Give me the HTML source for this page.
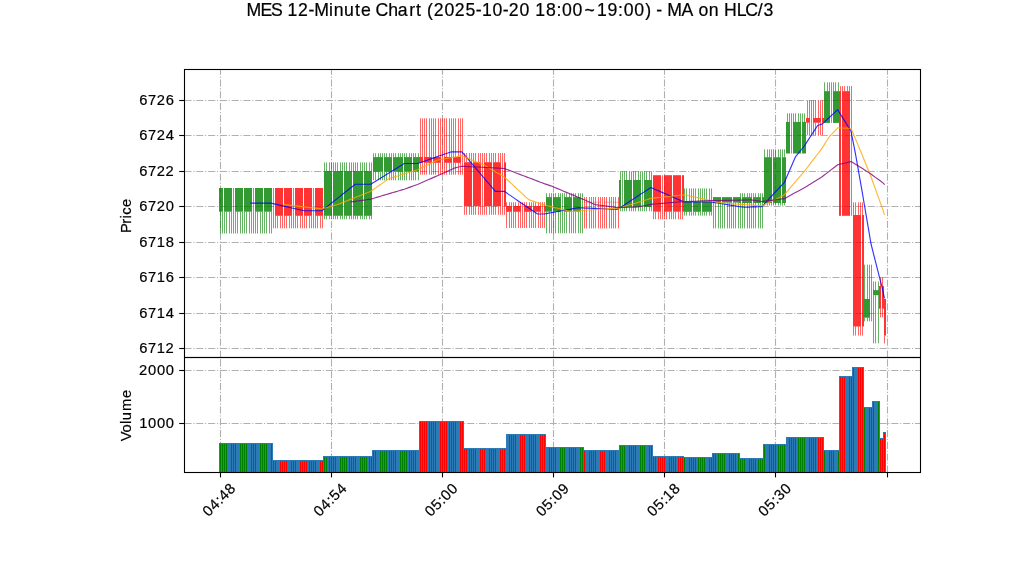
<!DOCTYPE html><html><head><meta charset="utf-8"><style>html,body{margin:0;padding:0;background:#fff;overflow:hidden}svg{display:block;will-change:transform}</style></head><body><svg width="1022" height="575" viewBox="0 0 1022 575">
<rect width="1022" height="575" fill="#fff"/>
<defs><clipPath id="cp"><rect x="184" y="69" width="737" height="288"/></clipPath><clipPath id="cv"><rect x="184" y="357" width="737" height="115"/></clipPath></defs>
<line x1="184.5" y1="100.5" x2="920" y2="100.5" stroke="#b0b0b0" stroke-width="1.1" stroke-dasharray="7.11 1.78 1.11 1.78"/>
<line x1="184.5" y1="135.5" x2="920" y2="135.5" stroke="#b0b0b0" stroke-width="1.1" stroke-dasharray="7.11 1.78 1.11 1.78"/>
<line x1="184.5" y1="171.5" x2="920" y2="171.5" stroke="#b0b0b0" stroke-width="1.1" stroke-dasharray="7.11 1.78 1.11 1.78"/>
<line x1="184.5" y1="206.5" x2="920" y2="206.5" stroke="#b0b0b0" stroke-width="1.1" stroke-dasharray="7.11 1.78 1.11 1.78"/>
<line x1="184.5" y1="242.5" x2="920" y2="242.5" stroke="#b0b0b0" stroke-width="1.1" stroke-dasharray="7.11 1.78 1.11 1.78"/>
<line x1="184.5" y1="277.5" x2="920" y2="277.5" stroke="#b0b0b0" stroke-width="1.1" stroke-dasharray="7.11 1.78 1.11 1.78"/>
<line x1="184.5" y1="313.5" x2="920" y2="313.5" stroke="#b0b0b0" stroke-width="1.1" stroke-dasharray="7.11 1.78 1.11 1.78"/>
<line x1="184.5" y1="348.5" x2="920" y2="348.5" stroke="#b0b0b0" stroke-width="1.1" stroke-dasharray="7.11 1.78 1.11 1.78"/>
<line x1="220.5" y1="357.5" x2="220.5" y2="69" stroke="#b0b0b0" stroke-width="1.1" stroke-dasharray="7.11 1.78 1.11 1.78"/>
<line x1="331.5" y1="357.5" x2="331.5" y2="69" stroke="#b0b0b0" stroke-width="1.1" stroke-dasharray="7.11 1.78 1.11 1.78"/>
<line x1="442.5" y1="357.5" x2="442.5" y2="69" stroke="#b0b0b0" stroke-width="1.1" stroke-dasharray="7.11 1.78 1.11 1.78"/>
<line x1="553.5" y1="357.5" x2="553.5" y2="69" stroke="#b0b0b0" stroke-width="1.1" stroke-dasharray="7.11 1.78 1.11 1.78"/>
<line x1="664.5" y1="357.5" x2="664.5" y2="69" stroke="#b0b0b0" stroke-width="1.1" stroke-dasharray="7.11 1.78 1.11 1.78"/>
<line x1="775.5" y1="357.5" x2="775.5" y2="69" stroke="#b0b0b0" stroke-width="1.1" stroke-dasharray="7.11 1.78 1.11 1.78"/>
<line x1="887.5" y1="357.5" x2="887.5" y2="69" stroke="#b0b0b0" stroke-width="1.1" stroke-dasharray="7.11 1.78 1.11 1.78"/>
<g clip-path="url(#cp)">
<rect x="219" y="188" width="4" height="23.7" fill="#008000" fill-opacity="0.8"/>
<rect x="224" y="188" width="8" height="23.7" fill="#008000" fill-opacity="0.8"/>
<rect x="235" y="188" width="8" height="23.7" fill="#008000" fill-opacity="0.8"/>
<rect x="244" y="188" width="8" height="23.7" fill="#008000" fill-opacity="0.8"/>
<rect x="255" y="188" width="8" height="23.7" fill="#008000" fill-opacity="0.8"/>
<rect x="264" y="188" width="8" height="23.7" fill="#008000" fill-opacity="0.8"/>
<rect x="275" y="188" width="8" height="27.8" fill="#ff0000" fill-opacity="0.8"/>
<rect x="284" y="188" width="8" height="27.8" fill="#ff0000" fill-opacity="0.8"/>
<rect x="295" y="188" width="8" height="27.8" fill="#ff0000" fill-opacity="0.8"/>
<rect x="304" y="188" width="8" height="27.8" fill="#ff0000" fill-opacity="0.8"/>
<rect x="315" y="188" width="8" height="27.8" fill="#ff0000" fill-opacity="0.8"/>
<rect x="324" y="171" width="8" height="44.8" fill="#008000" fill-opacity="0.8"/>
<rect x="333" y="171" width="10" height="44.8" fill="#008000" fill-opacity="0.8"/>
<rect x="344" y="171" width="8" height="44.8" fill="#008000" fill-opacity="0.8"/>
<rect x="353" y="171" width="10" height="44.8" fill="#008000" fill-opacity="0.8"/>
<rect x="364" y="171" width="8" height="44.8" fill="#008000" fill-opacity="0.8"/>
<rect x="373" y="157.1" width="10" height="14.6" fill="#008000" fill-opacity="0.8"/>
<rect x="384" y="157.1" width="8" height="14.6" fill="#008000" fill-opacity="0.8"/>
<rect x="393" y="157.1" width="10" height="14.6" fill="#008000" fill-opacity="0.8"/>
<rect x="404" y="157.1" width="8" height="14.6" fill="#008000" fill-opacity="0.8"/>
<rect x="413" y="157.1" width="6" height="14.6" fill="#008000" fill-opacity="0.8"/>
<rect x="419" y="157" width="4" height="5.8" fill="#ff0000" fill-opacity="0.8"/>
<rect x="424" y="157" width="8" height="5.8" fill="#ff0000" fill-opacity="0.8"/>
<rect x="433" y="157" width="8" height="5.8" fill="#ff0000" fill-opacity="0.8"/>
<rect x="444" y="157" width="8" height="5.8" fill="#ff0000" fill-opacity="0.8"/>
<rect x="453" y="157" width="8" height="5.8" fill="#ff0000" fill-opacity="0.8"/>
<rect x="464" y="162.2" width="8" height="44" fill="#ff0000" fill-opacity="0.8"/>
<rect x="473" y="162.2" width="8" height="44" fill="#ff0000" fill-opacity="0.8"/>
<rect x="484" y="162.2" width="8" height="44" fill="#ff0000" fill-opacity="0.8"/>
<rect x="493" y="162.2" width="8" height="44" fill="#ff0000" fill-opacity="0.8"/>
<rect x="504" y="162.2" width="2" height="44" fill="#ff0000" fill-opacity="0.8"/>
<rect x="506" y="206" width="6" height="5.8" fill="#ff0000" fill-opacity="0.8"/>
<rect x="513" y="206" width="8" height="5.8" fill="#ff0000" fill-opacity="0.8"/>
<rect x="524" y="206" width="8" height="5.8" fill="#ff0000" fill-opacity="0.8"/>
<rect x="533" y="206" width="8" height="5.8" fill="#ff0000" fill-opacity="0.8"/>
<rect x="544" y="206" width="2" height="5.8" fill="#ff0000" fill-opacity="0.8"/>
<rect x="546" y="197.1" width="6" height="14.6" fill="#008000" fill-opacity="0.8"/>
<rect x="553" y="197.1" width="8" height="14.6" fill="#008000" fill-opacity="0.8"/>
<rect x="564" y="197.1" width="8" height="14.6" fill="#008000" fill-opacity="0.8"/>
<rect x="573" y="197.1" width="8" height="14.6" fill="#008000" fill-opacity="0.8"/>
<rect x="584" y="201.7" width="8" height="1" fill="#ff0000" fill-opacity="0.3"/>
<rect x="593" y="201.7" width="8" height="1" fill="#ff0000" fill-opacity="0.3"/>
<rect x="604" y="201.7" width="8" height="1" fill="#ff0000" fill-opacity="0.3"/>
<rect x="613" y="201.7" width="6" height="1" fill="#ff0000" fill-opacity="0.3"/>
<rect x="619" y="180" width="2" height="27" fill="#008000" fill-opacity="0.8"/>
<rect x="624" y="180" width="8" height="27" fill="#008000" fill-opacity="0.8"/>
<rect x="633" y="180" width="8" height="27" fill="#008000" fill-opacity="0.8"/>
<rect x="644" y="180" width="8" height="27" fill="#008000" fill-opacity="0.8"/>
<rect x="653" y="175.2" width="8" height="36.5" fill="#ff0000" fill-opacity="0.8"/>
<rect x="664" y="175.2" width="8" height="36.5" fill="#ff0000" fill-opacity="0.8"/>
<rect x="673" y="175.2" width="8" height="36.5" fill="#ff0000" fill-opacity="0.8"/>
<rect x="682" y="175.2" width="2" height="36.5" fill="#ff0000" fill-opacity="0.8"/>
<rect x="684" y="201.8" width="8" height="10" fill="#008000" fill-opacity="0.8"/>
<rect x="693" y="201.8" width="8" height="10" fill="#008000" fill-opacity="0.8"/>
<rect x="702" y="201.8" width="10" height="10" fill="#008000" fill-opacity="0.8"/>
<rect x="713" y="197.1" width="8" height="5.5" fill="#008000" fill-opacity="0.8"/>
<rect x="722" y="197.1" width="10" height="5.5" fill="#008000" fill-opacity="0.8"/>
<rect x="733" y="197.1" width="6" height="5.5" fill="#008000" fill-opacity="0.8"/>
<rect x="739" y="197.1" width="2" height="5.9" fill="#008000" fill-opacity="0.8"/>
<rect x="742" y="197.1" width="10" height="5.9" fill="#008000" fill-opacity="0.8"/>
<rect x="753" y="197.1" width="8" height="5.9" fill="#008000" fill-opacity="0.8"/>
<rect x="762" y="197.1" width="2" height="5.9" fill="#008000" fill-opacity="0.8"/>
<rect x="764" y="157.2" width="8" height="45.8" fill="#008000" fill-opacity="0.8"/>
<rect x="773" y="157.2" width="8" height="45.8" fill="#008000" fill-opacity="0.8"/>
<rect x="782" y="157.2" width="4" height="45.8" fill="#008000" fill-opacity="0.8"/>
<rect x="786" y="121.9" width="4" height="31.6" fill="#008000" fill-opacity="0.8"/>
<rect x="793" y="121.9" width="8" height="31.6" fill="#008000" fill-opacity="0.8"/>
<rect x="802" y="121.9" width="4" height="31.6" fill="#008000" fill-opacity="0.8"/>
<rect x="806" y="118" width="4" height="4.7" fill="#ff0000" fill-opacity="0.8"/>
<rect x="813" y="118" width="8" height="4.7" fill="#ff0000" fill-opacity="0.8"/>
<rect x="822" y="118" width="2" height="4.7" fill="#ff0000" fill-opacity="0.8"/>
<rect x="824" y="91.15" width="6" height="31.75" fill="#008000" fill-opacity="0.8"/>
<rect x="833" y="91.15" width="6" height="31.75" fill="#008000" fill-opacity="0.8"/>
<rect x="839" y="91.15" width="2" height="124.65" fill="#ff0000" fill-opacity="0.8"/>
<rect x="842" y="91.15" width="8" height="124.65" fill="#ff0000" fill-opacity="0.8"/>
<rect x="853" y="215" width="8" height="111.55" fill="#ff0000" fill-opacity="0.8"/>
<rect x="862" y="215" width="2" height="111.55" fill="#ff0000" fill-opacity="0.8"/>
<rect x="864" y="299" width="6" height="18.7" fill="#008000" fill-opacity="0.8"/>
<rect x="873" y="290.1" width="6" height="5.1" fill="#008000" fill-opacity="0.8"/>
<rect x="879" y="286" width="2" height="22.7" fill="#ff0000" fill-opacity="0.8"/>
<rect x="882" y="286" width="2" height="22.7" fill="#ff0000" fill-opacity="0.8"/>
<rect x="884" y="298.75" width="2" height="36.85" fill="#ff0000" fill-opacity="0.8"/>
</g>
<g clip-path="url(#cp)">
<rect x="220" y="211.7" width="1" height="21.8" fill="#008000" fill-opacity="0.6"/>
<rect x="222" y="211.7" width="1" height="21.8" fill="#008000" fill-opacity="0.6"/>
<rect x="224" y="211.7" width="1" height="21.8" fill="#008000" fill-opacity="0.6"/>
<rect x="226" y="211.7" width="1" height="21.8" fill="#008000" fill-opacity="0.6"/>
<rect x="229" y="211.7" width="1" height="21.8" fill="#008000" fill-opacity="0.6"/>
<rect x="231" y="211.7" width="1" height="21.8" fill="#008000" fill-opacity="0.6"/>
<rect x="233" y="188" width="1" height="45.5" fill="#008000" fill-opacity="0.6"/>
<rect x="235" y="211.7" width="1" height="21.8" fill="#008000" fill-opacity="0.6"/>
<rect x="237" y="211.7" width="1" height="21.8" fill="#008000" fill-opacity="0.6"/>
<rect x="240" y="211.7" width="1" height="21.8" fill="#008000" fill-opacity="0.6"/>
<rect x="242" y="211.7" width="1" height="21.8" fill="#008000" fill-opacity="0.6"/>
<rect x="244" y="211.7" width="1" height="21.8" fill="#008000" fill-opacity="0.6"/>
<rect x="246" y="211.7" width="1" height="21.8" fill="#008000" fill-opacity="0.6"/>
<rect x="249" y="211.7" width="1" height="21.8" fill="#008000" fill-opacity="0.6"/>
<rect x="251" y="211.7" width="1" height="21.8" fill="#008000" fill-opacity="0.6"/>
<rect x="253" y="188" width="1" height="45.5" fill="#008000" fill-opacity="0.6"/>
<rect x="255" y="211.7" width="1" height="21.8" fill="#008000" fill-opacity="0.6"/>
<rect x="257" y="211.7" width="1" height="21.8" fill="#008000" fill-opacity="0.6"/>
<rect x="260" y="211.7" width="1" height="21.8" fill="#008000" fill-opacity="0.6"/>
<rect x="262" y="211.7" width="1" height="21.8" fill="#008000" fill-opacity="0.6"/>
<rect x="264" y="211.7" width="1" height="21.8" fill="#008000" fill-opacity="0.6"/>
<rect x="266" y="211.7" width="1" height="21.8" fill="#008000" fill-opacity="0.6"/>
<rect x="269" y="211.7" width="1" height="21.8" fill="#008000" fill-opacity="0.6"/>
<rect x="271" y="211.7" width="1" height="21.8" fill="#008000" fill-opacity="0.6"/>
<rect x="273" y="188" width="1" height="40.3" fill="#ff0000" fill-opacity="0.6"/>
<rect x="275" y="215.8" width="1" height="12.5" fill="#ff0000" fill-opacity="0.6"/>
<rect x="277" y="215.8" width="1" height="12.5" fill="#ff0000" fill-opacity="0.6"/>
<rect x="280" y="215.8" width="1" height="12.5" fill="#ff0000" fill-opacity="0.6"/>
<rect x="282" y="215.8" width="1" height="12.5" fill="#ff0000" fill-opacity="0.6"/>
<rect x="284" y="215.8" width="1" height="12.5" fill="#ff0000" fill-opacity="0.6"/>
<rect x="286" y="215.8" width="1" height="12.5" fill="#ff0000" fill-opacity="0.6"/>
<rect x="289" y="215.8" width="1" height="12.5" fill="#ff0000" fill-opacity="0.6"/>
<rect x="291" y="215.8" width="1" height="12.5" fill="#ff0000" fill-opacity="0.6"/>
<rect x="293" y="188" width="1" height="40.3" fill="#ff0000" fill-opacity="0.6"/>
<rect x="295" y="215.8" width="1" height="12.5" fill="#ff0000" fill-opacity="0.6"/>
<rect x="297" y="215.8" width="1" height="12.5" fill="#ff0000" fill-opacity="0.6"/>
<rect x="300" y="215.8" width="1" height="12.5" fill="#ff0000" fill-opacity="0.6"/>
<rect x="302" y="215.8" width="1" height="12.5" fill="#ff0000" fill-opacity="0.6"/>
<rect x="304" y="215.8" width="1" height="12.5" fill="#ff0000" fill-opacity="0.6"/>
<rect x="306" y="215.8" width="1" height="12.5" fill="#ff0000" fill-opacity="0.6"/>
<rect x="309" y="215.8" width="1" height="12.5" fill="#ff0000" fill-opacity="0.6"/>
<rect x="311" y="215.8" width="1" height="12.5" fill="#ff0000" fill-opacity="0.6"/>
<rect x="313" y="188" width="1" height="40.3" fill="#ff0000" fill-opacity="0.6"/>
<rect x="315" y="215.8" width="1" height="12.5" fill="#ff0000" fill-opacity="0.6"/>
<rect x="317" y="215.8" width="1" height="12.5" fill="#ff0000" fill-opacity="0.6"/>
<rect x="320" y="215.8" width="1" height="12.5" fill="#ff0000" fill-opacity="0.6"/>
<rect x="322" y="215.8" width="1" height="12.5" fill="#ff0000" fill-opacity="0.6"/>
<rect x="324" y="162.4" width="1" height="8.6" fill="#008000" fill-opacity="0.6"/>
<rect x="324" y="215.8" width="1" height="3.5" fill="#008000" fill-opacity="0.6"/>
<rect x="326" y="162.4" width="1" height="8.6" fill="#008000" fill-opacity="0.6"/>
<rect x="326" y="215.8" width="1" height="3.5" fill="#008000" fill-opacity="0.6"/>
<rect x="329" y="162.4" width="1" height="8.6" fill="#008000" fill-opacity="0.6"/>
<rect x="329" y="215.8" width="1" height="3.5" fill="#008000" fill-opacity="0.6"/>
<rect x="331" y="162.4" width="1" height="8.6" fill="#008000" fill-opacity="0.6"/>
<rect x="331" y="215.8" width="1" height="3.5" fill="#008000" fill-opacity="0.6"/>
<rect x="333" y="162.4" width="1" height="8.6" fill="#008000" fill-opacity="0.6"/>
<rect x="333" y="215.8" width="1" height="3.5" fill="#008000" fill-opacity="0.6"/>
<rect x="335" y="162.4" width="1" height="8.6" fill="#008000" fill-opacity="0.6"/>
<rect x="335" y="215.8" width="1" height="3.5" fill="#008000" fill-opacity="0.6"/>
<rect x="337" y="162.4" width="1" height="8.6" fill="#008000" fill-opacity="0.6"/>
<rect x="337" y="215.8" width="1" height="3.5" fill="#008000" fill-opacity="0.6"/>
<rect x="340" y="162.4" width="1" height="8.6" fill="#008000" fill-opacity="0.6"/>
<rect x="340" y="215.8" width="1" height="3.5" fill="#008000" fill-opacity="0.6"/>
<rect x="342" y="162.4" width="1" height="8.6" fill="#008000" fill-opacity="0.6"/>
<rect x="342" y="215.8" width="1" height="3.5" fill="#008000" fill-opacity="0.6"/>
<rect x="344" y="162.4" width="1" height="8.6" fill="#008000" fill-opacity="0.6"/>
<rect x="344" y="215.8" width="1" height="3.5" fill="#008000" fill-opacity="0.6"/>
<rect x="346" y="162.4" width="1" height="8.6" fill="#008000" fill-opacity="0.6"/>
<rect x="346" y="215.8" width="1" height="3.5" fill="#008000" fill-opacity="0.6"/>
<rect x="349" y="162.4" width="1" height="8.6" fill="#008000" fill-opacity="0.6"/>
<rect x="349" y="215.8" width="1" height="3.5" fill="#008000" fill-opacity="0.6"/>
<rect x="351" y="162.4" width="1" height="8.6" fill="#008000" fill-opacity="0.6"/>
<rect x="351" y="215.8" width="1" height="3.5" fill="#008000" fill-opacity="0.6"/>
<rect x="353" y="162.4" width="1" height="8.6" fill="#008000" fill-opacity="0.6"/>
<rect x="353" y="215.8" width="1" height="3.5" fill="#008000" fill-opacity="0.6"/>
<rect x="355" y="162.4" width="1" height="8.6" fill="#008000" fill-opacity="0.6"/>
<rect x="355" y="215.8" width="1" height="3.5" fill="#008000" fill-opacity="0.6"/>
<rect x="357" y="162.4" width="1" height="8.6" fill="#008000" fill-opacity="0.6"/>
<rect x="357" y="215.8" width="1" height="3.5" fill="#008000" fill-opacity="0.6"/>
<rect x="360" y="162.4" width="1" height="8.6" fill="#008000" fill-opacity="0.6"/>
<rect x="360" y="215.8" width="1" height="3.5" fill="#008000" fill-opacity="0.6"/>
<rect x="362" y="162.4" width="1" height="8.6" fill="#008000" fill-opacity="0.6"/>
<rect x="362" y="215.8" width="1" height="3.5" fill="#008000" fill-opacity="0.6"/>
<rect x="364" y="162.4" width="1" height="8.6" fill="#008000" fill-opacity="0.6"/>
<rect x="364" y="215.8" width="1" height="3.5" fill="#008000" fill-opacity="0.6"/>
<rect x="366" y="162.4" width="1" height="8.6" fill="#008000" fill-opacity="0.6"/>
<rect x="366" y="215.8" width="1" height="3.5" fill="#008000" fill-opacity="0.6"/>
<rect x="369" y="162.4" width="1" height="8.6" fill="#008000" fill-opacity="0.6"/>
<rect x="369" y="215.8" width="1" height="3.5" fill="#008000" fill-opacity="0.6"/>
<rect x="371" y="162.4" width="1" height="8.6" fill="#008000" fill-opacity="0.6"/>
<rect x="371" y="215.8" width="1" height="3.5" fill="#008000" fill-opacity="0.6"/>
<rect x="373" y="153.2" width="1" height="3.9" fill="#008000" fill-opacity="0.6"/>
<rect x="373" y="171.7" width="1" height="8.6" fill="#008000" fill-opacity="0.6"/>
<rect x="375" y="153.2" width="1" height="3.9" fill="#008000" fill-opacity="0.6"/>
<rect x="375" y="171.7" width="1" height="8.6" fill="#008000" fill-opacity="0.6"/>
<rect x="378" y="153.2" width="1" height="3.9" fill="#008000" fill-opacity="0.6"/>
<rect x="378" y="171.7" width="1" height="8.6" fill="#008000" fill-opacity="0.6"/>
<rect x="380" y="153.2" width="1" height="3.9" fill="#008000" fill-opacity="0.6"/>
<rect x="380" y="171.7" width="1" height="8.6" fill="#008000" fill-opacity="0.6"/>
<rect x="382" y="153.2" width="1" height="3.9" fill="#008000" fill-opacity="0.6"/>
<rect x="382" y="171.7" width="1" height="8.6" fill="#008000" fill-opacity="0.6"/>
<rect x="384" y="153.2" width="1" height="3.9" fill="#008000" fill-opacity="0.6"/>
<rect x="384" y="171.7" width="1" height="8.6" fill="#008000" fill-opacity="0.6"/>
<rect x="386" y="153.2" width="1" height="3.9" fill="#008000" fill-opacity="0.6"/>
<rect x="386" y="171.7" width="1" height="8.6" fill="#008000" fill-opacity="0.6"/>
<rect x="389" y="153.2" width="1" height="3.9" fill="#008000" fill-opacity="0.6"/>
<rect x="389" y="171.7" width="1" height="8.6" fill="#008000" fill-opacity="0.6"/>
<rect x="391" y="153.2" width="1" height="3.9" fill="#008000" fill-opacity="0.6"/>
<rect x="391" y="171.7" width="1" height="8.6" fill="#008000" fill-opacity="0.6"/>
<rect x="393" y="153.2" width="1" height="3.9" fill="#008000" fill-opacity="0.6"/>
<rect x="393" y="171.7" width="1" height="8.6" fill="#008000" fill-opacity="0.6"/>
<rect x="395" y="153.2" width="1" height="3.9" fill="#008000" fill-opacity="0.6"/>
<rect x="395" y="171.7" width="1" height="8.6" fill="#008000" fill-opacity="0.6"/>
<rect x="398" y="153.2" width="1" height="3.9" fill="#008000" fill-opacity="0.6"/>
<rect x="398" y="171.7" width="1" height="8.6" fill="#008000" fill-opacity="0.6"/>
<rect x="400" y="153.2" width="1" height="3.9" fill="#008000" fill-opacity="0.6"/>
<rect x="400" y="171.7" width="1" height="8.6" fill="#008000" fill-opacity="0.6"/>
<rect x="402" y="153.2" width="1" height="3.9" fill="#008000" fill-opacity="0.6"/>
<rect x="402" y="171.7" width="1" height="8.6" fill="#008000" fill-opacity="0.6"/>
<rect x="404" y="153.2" width="1" height="3.9" fill="#008000" fill-opacity="0.6"/>
<rect x="404" y="171.7" width="1" height="8.6" fill="#008000" fill-opacity="0.6"/>
<rect x="406" y="153.2" width="1" height="3.9" fill="#008000" fill-opacity="0.6"/>
<rect x="406" y="171.7" width="1" height="8.6" fill="#008000" fill-opacity="0.6"/>
<rect x="409" y="153.2" width="1" height="3.9" fill="#008000" fill-opacity="0.6"/>
<rect x="409" y="171.7" width="1" height="8.6" fill="#008000" fill-opacity="0.6"/>
<rect x="411" y="153.2" width="1" height="3.9" fill="#008000" fill-opacity="0.6"/>
<rect x="411" y="171.7" width="1" height="8.6" fill="#008000" fill-opacity="0.6"/>
<rect x="413" y="153.2" width="1" height="3.9" fill="#008000" fill-opacity="0.6"/>
<rect x="413" y="171.7" width="1" height="8.6" fill="#008000" fill-opacity="0.6"/>
<rect x="415" y="153.2" width="1" height="3.9" fill="#008000" fill-opacity="0.6"/>
<rect x="415" y="171.7" width="1" height="8.6" fill="#008000" fill-opacity="0.6"/>
<rect x="418" y="153.2" width="1" height="3.9" fill="#008000" fill-opacity="0.6"/>
<rect x="418" y="171.7" width="1" height="8.6" fill="#008000" fill-opacity="0.6"/>
<rect x="420" y="118.3" width="1" height="38.7" fill="#ff0000" fill-opacity="0.6"/>
<rect x="420" y="162.8" width="1" height="11.9" fill="#ff0000" fill-opacity="0.6"/>
<rect x="422" y="118.3" width="1" height="38.7" fill="#ff0000" fill-opacity="0.6"/>
<rect x="422" y="162.8" width="1" height="11.9" fill="#ff0000" fill-opacity="0.6"/>
<rect x="424" y="118.3" width="1" height="38.7" fill="#ff0000" fill-opacity="0.6"/>
<rect x="424" y="162.8" width="1" height="11.9" fill="#ff0000" fill-opacity="0.6"/>
<rect x="426" y="118.3" width="1" height="38.7" fill="#ff0000" fill-opacity="0.6"/>
<rect x="426" y="162.8" width="1" height="11.9" fill="#ff0000" fill-opacity="0.6"/>
<rect x="429" y="118.3" width="1" height="38.7" fill="#ff0000" fill-opacity="0.6"/>
<rect x="429" y="162.8" width="1" height="11.9" fill="#ff0000" fill-opacity="0.6"/>
<rect x="431" y="118.3" width="1" height="38.7" fill="#ff0000" fill-opacity="0.6"/>
<rect x="431" y="162.8" width="1" height="11.9" fill="#ff0000" fill-opacity="0.6"/>
<rect x="433" y="118.3" width="1" height="38.7" fill="#ff0000" fill-opacity="0.6"/>
<rect x="433" y="162.8" width="1" height="11.9" fill="#ff0000" fill-opacity="0.6"/>
<rect x="435" y="118.3" width="1" height="38.7" fill="#ff0000" fill-opacity="0.6"/>
<rect x="435" y="162.8" width="1" height="11.9" fill="#ff0000" fill-opacity="0.6"/>
<rect x="438" y="118.3" width="1" height="38.7" fill="#ff0000" fill-opacity="0.6"/>
<rect x="438" y="162.8" width="1" height="11.9" fill="#ff0000" fill-opacity="0.6"/>
<rect x="440" y="118.3" width="1" height="38.7" fill="#ff0000" fill-opacity="0.6"/>
<rect x="440" y="162.8" width="1" height="11.9" fill="#ff0000" fill-opacity="0.6"/>
<rect x="442" y="118.3" width="1" height="56.4" fill="#ff0000" fill-opacity="0.6"/>
<rect x="444" y="118.3" width="1" height="38.7" fill="#ff0000" fill-opacity="0.6"/>
<rect x="444" y="162.8" width="1" height="11.9" fill="#ff0000" fill-opacity="0.6"/>
<rect x="446" y="118.3" width="1" height="38.7" fill="#ff0000" fill-opacity="0.6"/>
<rect x="446" y="162.8" width="1" height="11.9" fill="#ff0000" fill-opacity="0.6"/>
<rect x="449" y="118.3" width="1" height="38.7" fill="#ff0000" fill-opacity="0.6"/>
<rect x="449" y="162.8" width="1" height="11.9" fill="#ff0000" fill-opacity="0.6"/>
<rect x="451" y="118.3" width="1" height="38.7" fill="#ff0000" fill-opacity="0.6"/>
<rect x="451" y="162.8" width="1" height="11.9" fill="#ff0000" fill-opacity="0.6"/>
<rect x="453" y="118.3" width="1" height="38.7" fill="#ff0000" fill-opacity="0.6"/>
<rect x="453" y="162.8" width="1" height="11.9" fill="#ff0000" fill-opacity="0.6"/>
<rect x="455" y="118.3" width="1" height="38.7" fill="#ff0000" fill-opacity="0.6"/>
<rect x="455" y="162.8" width="1" height="11.9" fill="#ff0000" fill-opacity="0.6"/>
<rect x="458" y="118.3" width="1" height="38.7" fill="#ff0000" fill-opacity="0.6"/>
<rect x="458" y="162.8" width="1" height="11.9" fill="#ff0000" fill-opacity="0.6"/>
<rect x="460" y="118.3" width="1" height="38.7" fill="#ff0000" fill-opacity="0.6"/>
<rect x="460" y="162.8" width="1" height="11.9" fill="#ff0000" fill-opacity="0.6"/>
<rect x="462" y="118.3" width="1" height="56.4" fill="#ff0000" fill-opacity="0.6"/>
<rect x="464" y="153" width="1" height="9.2" fill="#ff0000" fill-opacity="0.6"/>
<rect x="464" y="206.2" width="1" height="8.6" fill="#ff0000" fill-opacity="0.6"/>
<rect x="466" y="153" width="1" height="9.2" fill="#ff0000" fill-opacity="0.6"/>
<rect x="466" y="206.2" width="1" height="8.6" fill="#ff0000" fill-opacity="0.6"/>
<rect x="469" y="153" width="1" height="9.2" fill="#ff0000" fill-opacity="0.6"/>
<rect x="469" y="206.2" width="1" height="8.6" fill="#ff0000" fill-opacity="0.6"/>
<rect x="471" y="153" width="1" height="9.2" fill="#ff0000" fill-opacity="0.6"/>
<rect x="471" y="206.2" width="1" height="8.6" fill="#ff0000" fill-opacity="0.6"/>
<rect x="473" y="153" width="1" height="9.2" fill="#ff0000" fill-opacity="0.6"/>
<rect x="473" y="206.2" width="1" height="8.6" fill="#ff0000" fill-opacity="0.6"/>
<rect x="475" y="153" width="1" height="9.2" fill="#ff0000" fill-opacity="0.6"/>
<rect x="475" y="206.2" width="1" height="8.6" fill="#ff0000" fill-opacity="0.6"/>
<rect x="478" y="153" width="1" height="9.2" fill="#ff0000" fill-opacity="0.6"/>
<rect x="478" y="206.2" width="1" height="8.6" fill="#ff0000" fill-opacity="0.6"/>
<rect x="480" y="153" width="1" height="9.2" fill="#ff0000" fill-opacity="0.6"/>
<rect x="480" y="206.2" width="1" height="8.6" fill="#ff0000" fill-opacity="0.6"/>
<rect x="482" y="153" width="1" height="61.8" fill="#ff0000" fill-opacity="0.6"/>
<rect x="484" y="153" width="1" height="9.2" fill="#ff0000" fill-opacity="0.6"/>
<rect x="484" y="206.2" width="1" height="8.6" fill="#ff0000" fill-opacity="0.6"/>
<rect x="486" y="153" width="1" height="9.2" fill="#ff0000" fill-opacity="0.6"/>
<rect x="486" y="206.2" width="1" height="8.6" fill="#ff0000" fill-opacity="0.6"/>
<rect x="489" y="153" width="1" height="9.2" fill="#ff0000" fill-opacity="0.6"/>
<rect x="489" y="206.2" width="1" height="8.6" fill="#ff0000" fill-opacity="0.6"/>
<rect x="491" y="153" width="1" height="9.2" fill="#ff0000" fill-opacity="0.6"/>
<rect x="491" y="206.2" width="1" height="8.6" fill="#ff0000" fill-opacity="0.6"/>
<rect x="493" y="153" width="1" height="9.2" fill="#ff0000" fill-opacity="0.6"/>
<rect x="493" y="206.2" width="1" height="8.6" fill="#ff0000" fill-opacity="0.6"/>
<rect x="495" y="153" width="1" height="9.2" fill="#ff0000" fill-opacity="0.6"/>
<rect x="495" y="206.2" width="1" height="8.6" fill="#ff0000" fill-opacity="0.6"/>
<rect x="498" y="153" width="1" height="9.2" fill="#ff0000" fill-opacity="0.6"/>
<rect x="498" y="206.2" width="1" height="8.6" fill="#ff0000" fill-opacity="0.6"/>
<rect x="500" y="153" width="1" height="9.2" fill="#ff0000" fill-opacity="0.6"/>
<rect x="500" y="206.2" width="1" height="8.6" fill="#ff0000" fill-opacity="0.6"/>
<rect x="502" y="153" width="1" height="61.8" fill="#ff0000" fill-opacity="0.6"/>
<rect x="504" y="153" width="1" height="9.2" fill="#ff0000" fill-opacity="0.6"/>
<rect x="504" y="206.2" width="1" height="8.6" fill="#ff0000" fill-opacity="0.6"/>
<rect x="506" y="202.2" width="1" height="3.8" fill="#ff0000" fill-opacity="0.6"/>
<rect x="506" y="211.8" width="1" height="16.2" fill="#ff0000" fill-opacity="0.6"/>
<rect x="509" y="202.2" width="1" height="3.8" fill="#ff0000" fill-opacity="0.6"/>
<rect x="509" y="211.8" width="1" height="16.2" fill="#ff0000" fill-opacity="0.6"/>
<rect x="511" y="202.2" width="1" height="3.8" fill="#ff0000" fill-opacity="0.6"/>
<rect x="511" y="211.8" width="1" height="16.2" fill="#ff0000" fill-opacity="0.6"/>
<rect x="513" y="202.2" width="1" height="3.8" fill="#ff0000" fill-opacity="0.6"/>
<rect x="513" y="211.8" width="1" height="16.2" fill="#ff0000" fill-opacity="0.6"/>
<rect x="515" y="202.2" width="1" height="3.8" fill="#ff0000" fill-opacity="0.6"/>
<rect x="515" y="211.8" width="1" height="16.2" fill="#ff0000" fill-opacity="0.6"/>
<rect x="518" y="202.2" width="1" height="3.8" fill="#ff0000" fill-opacity="0.6"/>
<rect x="518" y="211.8" width="1" height="16.2" fill="#ff0000" fill-opacity="0.6"/>
<rect x="520" y="202.2" width="1" height="3.8" fill="#ff0000" fill-opacity="0.6"/>
<rect x="520" y="211.8" width="1" height="16.2" fill="#ff0000" fill-opacity="0.6"/>
<rect x="522" y="202.2" width="1" height="25.8" fill="#ff0000" fill-opacity="0.6"/>
<rect x="524" y="202.2" width="1" height="3.8" fill="#ff0000" fill-opacity="0.6"/>
<rect x="524" y="211.8" width="1" height="16.2" fill="#ff0000" fill-opacity="0.6"/>
<rect x="526" y="202.2" width="1" height="3.8" fill="#ff0000" fill-opacity="0.6"/>
<rect x="526" y="211.8" width="1" height="16.2" fill="#ff0000" fill-opacity="0.6"/>
<rect x="529" y="202.2" width="1" height="3.8" fill="#ff0000" fill-opacity="0.6"/>
<rect x="529" y="211.8" width="1" height="16.2" fill="#ff0000" fill-opacity="0.6"/>
<rect x="531" y="202.2" width="1" height="3.8" fill="#ff0000" fill-opacity="0.6"/>
<rect x="531" y="211.8" width="1" height="16.2" fill="#ff0000" fill-opacity="0.6"/>
<rect x="533" y="202.2" width="1" height="3.8" fill="#ff0000" fill-opacity="0.6"/>
<rect x="533" y="211.8" width="1" height="16.2" fill="#ff0000" fill-opacity="0.6"/>
<rect x="535" y="202.2" width="1" height="3.8" fill="#ff0000" fill-opacity="0.6"/>
<rect x="535" y="211.8" width="1" height="16.2" fill="#ff0000" fill-opacity="0.6"/>
<rect x="538" y="202.2" width="1" height="3.8" fill="#ff0000" fill-opacity="0.6"/>
<rect x="538" y="211.8" width="1" height="16.2" fill="#ff0000" fill-opacity="0.6"/>
<rect x="540" y="202.2" width="1" height="3.8" fill="#ff0000" fill-opacity="0.6"/>
<rect x="540" y="211.8" width="1" height="16.2" fill="#ff0000" fill-opacity="0.6"/>
<rect x="542" y="202.2" width="1" height="25.8" fill="#ff0000" fill-opacity="0.6"/>
<rect x="544" y="202.2" width="1" height="3.8" fill="#ff0000" fill-opacity="0.6"/>
<rect x="544" y="211.8" width="1" height="16.2" fill="#ff0000" fill-opacity="0.6"/>
<rect x="546" y="193.2" width="1" height="3.9" fill="#008000" fill-opacity="0.6"/>
<rect x="546" y="211.7" width="1" height="21.6" fill="#008000" fill-opacity="0.6"/>
<rect x="549" y="193.2" width="1" height="3.9" fill="#008000" fill-opacity="0.6"/>
<rect x="549" y="211.7" width="1" height="21.6" fill="#008000" fill-opacity="0.6"/>
<rect x="551" y="193.2" width="1" height="3.9" fill="#008000" fill-opacity="0.6"/>
<rect x="551" y="211.7" width="1" height="21.6" fill="#008000" fill-opacity="0.6"/>
<rect x="553" y="193.2" width="1" height="3.9" fill="#008000" fill-opacity="0.6"/>
<rect x="553" y="211.7" width="1" height="21.6" fill="#008000" fill-opacity="0.6"/>
<rect x="555" y="193.2" width="1" height="3.9" fill="#008000" fill-opacity="0.6"/>
<rect x="555" y="211.7" width="1" height="21.6" fill="#008000" fill-opacity="0.6"/>
<rect x="558" y="193.2" width="1" height="3.9" fill="#008000" fill-opacity="0.6"/>
<rect x="558" y="211.7" width="1" height="21.6" fill="#008000" fill-opacity="0.6"/>
<rect x="560" y="193.2" width="1" height="3.9" fill="#008000" fill-opacity="0.6"/>
<rect x="560" y="211.7" width="1" height="21.6" fill="#008000" fill-opacity="0.6"/>
<rect x="562" y="193.2" width="1" height="40.1" fill="#008000" fill-opacity="0.6"/>
<rect x="564" y="193.2" width="1" height="3.9" fill="#008000" fill-opacity="0.6"/>
<rect x="564" y="211.7" width="1" height="21.6" fill="#008000" fill-opacity="0.6"/>
<rect x="566" y="193.2" width="1" height="3.9" fill="#008000" fill-opacity="0.6"/>
<rect x="566" y="211.7" width="1" height="21.6" fill="#008000" fill-opacity="0.6"/>
<rect x="569" y="193.2" width="1" height="3.9" fill="#008000" fill-opacity="0.6"/>
<rect x="569" y="211.7" width="1" height="21.6" fill="#008000" fill-opacity="0.6"/>
<rect x="571" y="193.2" width="1" height="3.9" fill="#008000" fill-opacity="0.6"/>
<rect x="571" y="211.7" width="1" height="21.6" fill="#008000" fill-opacity="0.6"/>
<rect x="573" y="193.2" width="1" height="3.9" fill="#008000" fill-opacity="0.6"/>
<rect x="573" y="211.7" width="1" height="21.6" fill="#008000" fill-opacity="0.6"/>
<rect x="575" y="193.2" width="1" height="3.9" fill="#008000" fill-opacity="0.6"/>
<rect x="575" y="211.7" width="1" height="21.6" fill="#008000" fill-opacity="0.6"/>
<rect x="578" y="193.2" width="1" height="3.9" fill="#008000" fill-opacity="0.6"/>
<rect x="578" y="211.7" width="1" height="21.6" fill="#008000" fill-opacity="0.6"/>
<rect x="580" y="193.2" width="1" height="3.9" fill="#008000" fill-opacity="0.6"/>
<rect x="580" y="211.7" width="1" height="21.6" fill="#008000" fill-opacity="0.6"/>
<rect x="582" y="193.2" width="1" height="40.1" fill="#008000" fill-opacity="0.6"/>
<rect x="584" y="197" width="1" height="31.4" fill="#ff0000" fill-opacity="0.6"/>
<rect x="586" y="197" width="1" height="31.4" fill="#ff0000" fill-opacity="0.6"/>
<rect x="589" y="197" width="1" height="31.4" fill="#ff0000" fill-opacity="0.6"/>
<rect x="591" y="197" width="1" height="31.4" fill="#ff0000" fill-opacity="0.6"/>
<rect x="593" y="197" width="1" height="31.4" fill="#ff0000" fill-opacity="0.6"/>
<rect x="595" y="197" width="1" height="31.4" fill="#ff0000" fill-opacity="0.6"/>
<rect x="598" y="197" width="1" height="31.4" fill="#ff0000" fill-opacity="0.6"/>
<rect x="600" y="197" width="1" height="31.4" fill="#ff0000" fill-opacity="0.6"/>
<rect x="602" y="197" width="1" height="31.4" fill="#ff0000" fill-opacity="0.6"/>
<rect x="604" y="197" width="1" height="31.4" fill="#ff0000" fill-opacity="0.6"/>
<rect x="606" y="197" width="1" height="31.4" fill="#ff0000" fill-opacity="0.6"/>
<rect x="609" y="197" width="1" height="31.4" fill="#ff0000" fill-opacity="0.6"/>
<rect x="611" y="197" width="1" height="31.4" fill="#ff0000" fill-opacity="0.6"/>
<rect x="613" y="197" width="1" height="31.4" fill="#ff0000" fill-opacity="0.6"/>
<rect x="615" y="197" width="1" height="31.4" fill="#ff0000" fill-opacity="0.6"/>
<rect x="618" y="197" width="1" height="31.4" fill="#ff0000" fill-opacity="0.6"/>
<rect x="620" y="171.3" width="1" height="8.7" fill="#008000" fill-opacity="0.6"/>
<rect x="620" y="207" width="1" height="4.3" fill="#008000" fill-opacity="0.6"/>
<rect x="622" y="171.3" width="1" height="40" fill="#008000" fill-opacity="0.6"/>
<rect x="624" y="171.3" width="1" height="8.7" fill="#008000" fill-opacity="0.6"/>
<rect x="624" y="207" width="1" height="4.3" fill="#008000" fill-opacity="0.6"/>
<rect x="626" y="171.3" width="1" height="8.7" fill="#008000" fill-opacity="0.6"/>
<rect x="626" y="207" width="1" height="4.3" fill="#008000" fill-opacity="0.6"/>
<rect x="629" y="171.3" width="1" height="8.7" fill="#008000" fill-opacity="0.6"/>
<rect x="629" y="207" width="1" height="4.3" fill="#008000" fill-opacity="0.6"/>
<rect x="631" y="171.3" width="1" height="8.7" fill="#008000" fill-opacity="0.6"/>
<rect x="631" y="207" width="1" height="4.3" fill="#008000" fill-opacity="0.6"/>
<rect x="633" y="171.3" width="1" height="8.7" fill="#008000" fill-opacity="0.6"/>
<rect x="633" y="207" width="1" height="4.3" fill="#008000" fill-opacity="0.6"/>
<rect x="635" y="171.3" width="1" height="8.7" fill="#008000" fill-opacity="0.6"/>
<rect x="635" y="207" width="1" height="4.3" fill="#008000" fill-opacity="0.6"/>
<rect x="638" y="171.3" width="1" height="8.7" fill="#008000" fill-opacity="0.6"/>
<rect x="638" y="207" width="1" height="4.3" fill="#008000" fill-opacity="0.6"/>
<rect x="640" y="171.3" width="1" height="8.7" fill="#008000" fill-opacity="0.6"/>
<rect x="640" y="207" width="1" height="4.3" fill="#008000" fill-opacity="0.6"/>
<rect x="642" y="171.3" width="1" height="40" fill="#008000" fill-opacity="0.6"/>
<rect x="644" y="171.3" width="1" height="8.7" fill="#008000" fill-opacity="0.6"/>
<rect x="644" y="207" width="1" height="4.3" fill="#008000" fill-opacity="0.6"/>
<rect x="646" y="171.3" width="1" height="8.7" fill="#008000" fill-opacity="0.6"/>
<rect x="646" y="207" width="1" height="4.3" fill="#008000" fill-opacity="0.6"/>
<rect x="649" y="171.3" width="1" height="8.7" fill="#008000" fill-opacity="0.6"/>
<rect x="649" y="207" width="1" height="4.3" fill="#008000" fill-opacity="0.6"/>
<rect x="651" y="171.3" width="1" height="8.7" fill="#008000" fill-opacity="0.6"/>
<rect x="651" y="207" width="1" height="4.3" fill="#008000" fill-opacity="0.6"/>
<rect x="653" y="211.7" width="1" height="7.55" fill="#ff0000" fill-opacity="0.6"/>
<rect x="655" y="211.7" width="1" height="7.55" fill="#ff0000" fill-opacity="0.6"/>
<rect x="658" y="211.7" width="1" height="7.55" fill="#ff0000" fill-opacity="0.6"/>
<rect x="660" y="211.7" width="1" height="7.55" fill="#ff0000" fill-opacity="0.6"/>
<rect x="662" y="175.2" width="1" height="44.05" fill="#ff0000" fill-opacity="0.6"/>
<rect x="664" y="211.7" width="1" height="7.55" fill="#ff0000" fill-opacity="0.6"/>
<rect x="666" y="211.7" width="1" height="7.55" fill="#ff0000" fill-opacity="0.6"/>
<rect x="669" y="211.7" width="1" height="7.55" fill="#ff0000" fill-opacity="0.6"/>
<rect x="671" y="211.7" width="1" height="7.55" fill="#ff0000" fill-opacity="0.6"/>
<rect x="673" y="211.7" width="1" height="7.55" fill="#ff0000" fill-opacity="0.6"/>
<rect x="675" y="211.7" width="1" height="7.55" fill="#ff0000" fill-opacity="0.6"/>
<rect x="678" y="211.7" width="1" height="7.55" fill="#ff0000" fill-opacity="0.6"/>
<rect x="680" y="211.7" width="1" height="7.55" fill="#ff0000" fill-opacity="0.6"/>
<rect x="682" y="211.7" width="1" height="7.55" fill="#ff0000" fill-opacity="0.6"/>
<rect x="684" y="188.4" width="1" height="13.4" fill="#008000" fill-opacity="0.6"/>
<rect x="684" y="211.8" width="1" height="3.8" fill="#008000" fill-opacity="0.6"/>
<rect x="686" y="188.4" width="1" height="13.4" fill="#008000" fill-opacity="0.6"/>
<rect x="686" y="211.8" width="1" height="3.8" fill="#008000" fill-opacity="0.6"/>
<rect x="689" y="188.4" width="1" height="13.4" fill="#008000" fill-opacity="0.6"/>
<rect x="689" y="211.8" width="1" height="3.8" fill="#008000" fill-opacity="0.6"/>
<rect x="691" y="188.4" width="1" height="13.4" fill="#008000" fill-opacity="0.6"/>
<rect x="691" y="211.8" width="1" height="3.8" fill="#008000" fill-opacity="0.6"/>
<rect x="693" y="188.4" width="1" height="13.4" fill="#008000" fill-opacity="0.6"/>
<rect x="693" y="211.8" width="1" height="3.8" fill="#008000" fill-opacity="0.6"/>
<rect x="695" y="188.4" width="1" height="13.4" fill="#008000" fill-opacity="0.6"/>
<rect x="695" y="211.8" width="1" height="3.8" fill="#008000" fill-opacity="0.6"/>
<rect x="698" y="188.4" width="1" height="13.4" fill="#008000" fill-opacity="0.6"/>
<rect x="698" y="211.8" width="1" height="3.8" fill="#008000" fill-opacity="0.6"/>
<rect x="700" y="188.4" width="1" height="13.4" fill="#008000" fill-opacity="0.6"/>
<rect x="700" y="211.8" width="1" height="3.8" fill="#008000" fill-opacity="0.6"/>
<rect x="702" y="188.4" width="1" height="13.4" fill="#008000" fill-opacity="0.6"/>
<rect x="702" y="211.8" width="1" height="3.8" fill="#008000" fill-opacity="0.6"/>
<rect x="704" y="188.4" width="1" height="13.4" fill="#008000" fill-opacity="0.6"/>
<rect x="704" y="211.8" width="1" height="3.8" fill="#008000" fill-opacity="0.6"/>
<rect x="706" y="188.4" width="1" height="13.4" fill="#008000" fill-opacity="0.6"/>
<rect x="706" y="211.8" width="1" height="3.8" fill="#008000" fill-opacity="0.6"/>
<rect x="709" y="188.4" width="1" height="13.4" fill="#008000" fill-opacity="0.6"/>
<rect x="709" y="211.8" width="1" height="3.8" fill="#008000" fill-opacity="0.6"/>
<rect x="711" y="188.4" width="1" height="13.4" fill="#008000" fill-opacity="0.6"/>
<rect x="711" y="211.8" width="1" height="3.8" fill="#008000" fill-opacity="0.6"/>
<rect x="713" y="202.6" width="1" height="25.8" fill="#008000" fill-opacity="0.6"/>
<rect x="715" y="202.6" width="1" height="25.8" fill="#008000" fill-opacity="0.6"/>
<rect x="718" y="202.6" width="1" height="25.8" fill="#008000" fill-opacity="0.6"/>
<rect x="720" y="202.6" width="1" height="25.8" fill="#008000" fill-opacity="0.6"/>
<rect x="722" y="202.6" width="1" height="25.8" fill="#008000" fill-opacity="0.6"/>
<rect x="724" y="202.6" width="1" height="25.8" fill="#008000" fill-opacity="0.6"/>
<rect x="727" y="202.6" width="1" height="25.8" fill="#008000" fill-opacity="0.6"/>
<rect x="729" y="202.6" width="1" height="25.8" fill="#008000" fill-opacity="0.6"/>
<rect x="731" y="202.6" width="1" height="25.8" fill="#008000" fill-opacity="0.6"/>
<rect x="733" y="202.6" width="1" height="25.8" fill="#008000" fill-opacity="0.6"/>
<rect x="735" y="202.6" width="1" height="25.8" fill="#008000" fill-opacity="0.6"/>
<rect x="738" y="202.6" width="1" height="25.8" fill="#008000" fill-opacity="0.6"/>
<rect x="740" y="193.2" width="1" height="3.9" fill="#008000" fill-opacity="0.6"/>
<rect x="740" y="203" width="1" height="25.4" fill="#008000" fill-opacity="0.6"/>
<rect x="742" y="193.2" width="1" height="3.9" fill="#008000" fill-opacity="0.6"/>
<rect x="742" y="203" width="1" height="25.4" fill="#008000" fill-opacity="0.6"/>
<rect x="744" y="193.2" width="1" height="3.9" fill="#008000" fill-opacity="0.6"/>
<rect x="744" y="203" width="1" height="25.4" fill="#008000" fill-opacity="0.6"/>
<rect x="747" y="193.2" width="1" height="3.9" fill="#008000" fill-opacity="0.6"/>
<rect x="747" y="203" width="1" height="25.4" fill="#008000" fill-opacity="0.6"/>
<rect x="749" y="193.2" width="1" height="3.9" fill="#008000" fill-opacity="0.6"/>
<rect x="749" y="203" width="1" height="25.4" fill="#008000" fill-opacity="0.6"/>
<rect x="751" y="193.2" width="1" height="3.9" fill="#008000" fill-opacity="0.6"/>
<rect x="751" y="203" width="1" height="25.4" fill="#008000" fill-opacity="0.6"/>
<rect x="753" y="193.2" width="1" height="3.9" fill="#008000" fill-opacity="0.6"/>
<rect x="753" y="203" width="1" height="25.4" fill="#008000" fill-opacity="0.6"/>
<rect x="755" y="193.2" width="1" height="3.9" fill="#008000" fill-opacity="0.6"/>
<rect x="755" y="203" width="1" height="25.4" fill="#008000" fill-opacity="0.6"/>
<rect x="758" y="193.2" width="1" height="3.9" fill="#008000" fill-opacity="0.6"/>
<rect x="758" y="203" width="1" height="25.4" fill="#008000" fill-opacity="0.6"/>
<rect x="760" y="193.2" width="1" height="3.9" fill="#008000" fill-opacity="0.6"/>
<rect x="760" y="203" width="1" height="25.4" fill="#008000" fill-opacity="0.6"/>
<rect x="762" y="193.2" width="1" height="3.9" fill="#008000" fill-opacity="0.6"/>
<rect x="762" y="203" width="1" height="25.4" fill="#008000" fill-opacity="0.6"/>
<rect x="764" y="149.3" width="1" height="7.9" fill="#008000" fill-opacity="0.6"/>
<rect x="764" y="203" width="1" height="2.5" fill="#008000" fill-opacity="0.6"/>
<rect x="767" y="149.3" width="1" height="7.9" fill="#008000" fill-opacity="0.6"/>
<rect x="767" y="203" width="1" height="2.5" fill="#008000" fill-opacity="0.6"/>
<rect x="769" y="149.3" width="1" height="7.9" fill="#008000" fill-opacity="0.6"/>
<rect x="769" y="203" width="1" height="2.5" fill="#008000" fill-opacity="0.6"/>
<rect x="771" y="149.3" width="1" height="7.9" fill="#008000" fill-opacity="0.6"/>
<rect x="771" y="203" width="1" height="2.5" fill="#008000" fill-opacity="0.6"/>
<rect x="773" y="149.3" width="1" height="7.9" fill="#008000" fill-opacity="0.6"/>
<rect x="773" y="203" width="1" height="2.5" fill="#008000" fill-opacity="0.6"/>
<rect x="775" y="149.3" width="1" height="7.9" fill="#008000" fill-opacity="0.6"/>
<rect x="775" y="203" width="1" height="2.5" fill="#008000" fill-opacity="0.6"/>
<rect x="778" y="149.3" width="1" height="7.9" fill="#008000" fill-opacity="0.6"/>
<rect x="778" y="203" width="1" height="2.5" fill="#008000" fill-opacity="0.6"/>
<rect x="780" y="149.3" width="1" height="7.9" fill="#008000" fill-opacity="0.6"/>
<rect x="780" y="203" width="1" height="2.5" fill="#008000" fill-opacity="0.6"/>
<rect x="782" y="149.3" width="1" height="7.9" fill="#008000" fill-opacity="0.6"/>
<rect x="782" y="203" width="1" height="2.5" fill="#008000" fill-opacity="0.6"/>
<rect x="784" y="149.3" width="1" height="7.9" fill="#008000" fill-opacity="0.6"/>
<rect x="784" y="203" width="1" height="2.5" fill="#008000" fill-opacity="0.6"/>
<rect x="787" y="113.3" width="1" height="8.6" fill="#008000" fill-opacity="0.6"/>
<rect x="789" y="113.3" width="1" height="8.6" fill="#008000" fill-opacity="0.6"/>
<rect x="791" y="113.3" width="1" height="40.2" fill="#008000" fill-opacity="0.6"/>
<rect x="793" y="113.3" width="1" height="8.6" fill="#008000" fill-opacity="0.6"/>
<rect x="795" y="113.3" width="1" height="8.6" fill="#008000" fill-opacity="0.6"/>
<rect x="798" y="113.3" width="1" height="8.6" fill="#008000" fill-opacity="0.6"/>
<rect x="800" y="113.3" width="1" height="8.6" fill="#008000" fill-opacity="0.6"/>
<rect x="802" y="113.3" width="1" height="8.6" fill="#008000" fill-opacity="0.6"/>
<rect x="804" y="113.3" width="1" height="8.6" fill="#008000" fill-opacity="0.6"/>
<rect x="807" y="100.3" width="1" height="17.7" fill="#ff0000" fill-opacity="0.6"/>
<rect x="807" y="122.7" width="1" height="12.5" fill="#ff0000" fill-opacity="0.6"/>
<rect x="809" y="100.3" width="1" height="17.7" fill="#ff0000" fill-opacity="0.6"/>
<rect x="809" y="122.7" width="1" height="12.5" fill="#ff0000" fill-opacity="0.6"/>
<rect x="811" y="100.3" width="1" height="34.9" fill="#ff0000" fill-opacity="0.6"/>
<rect x="813" y="100.3" width="1" height="17.7" fill="#ff0000" fill-opacity="0.6"/>
<rect x="813" y="122.7" width="1" height="12.5" fill="#ff0000" fill-opacity="0.6"/>
<rect x="815" y="100.3" width="1" height="17.7" fill="#ff0000" fill-opacity="0.6"/>
<rect x="815" y="122.7" width="1" height="12.5" fill="#ff0000" fill-opacity="0.6"/>
<rect x="818" y="100.3" width="1" height="17.7" fill="#ff0000" fill-opacity="0.6"/>
<rect x="818" y="122.7" width="1" height="12.5" fill="#ff0000" fill-opacity="0.6"/>
<rect x="820" y="100.3" width="1" height="17.7" fill="#ff0000" fill-opacity="0.6"/>
<rect x="820" y="122.7" width="1" height="12.5" fill="#ff0000" fill-opacity="0.6"/>
<rect x="822" y="100.3" width="1" height="17.7" fill="#ff0000" fill-opacity="0.6"/>
<rect x="822" y="122.7" width="1" height="12.5" fill="#ff0000" fill-opacity="0.6"/>
<rect x="824" y="82.3" width="1" height="8.85" fill="#008000" fill-opacity="0.6"/>
<rect x="827" y="82.3" width="1" height="8.85" fill="#008000" fill-opacity="0.6"/>
<rect x="829" y="82.3" width="1" height="8.85" fill="#008000" fill-opacity="0.6"/>
<rect x="831" y="82.3" width="1" height="40.6" fill="#008000" fill-opacity="0.6"/>
<rect x="833" y="82.3" width="1" height="8.85" fill="#008000" fill-opacity="0.6"/>
<rect x="835" y="82.3" width="1" height="8.85" fill="#008000" fill-opacity="0.6"/>
<rect x="838" y="82.3" width="1" height="8.85" fill="#008000" fill-opacity="0.6"/>
<rect x="840" y="86.1" width="1" height="5.05" fill="#ff0000" fill-opacity="0.6"/>
<rect x="842" y="86.1" width="1" height="5.05" fill="#ff0000" fill-opacity="0.6"/>
<rect x="844" y="86.1" width="1" height="5.05" fill="#ff0000" fill-opacity="0.6"/>
<rect x="847" y="86.1" width="1" height="5.05" fill="#ff0000" fill-opacity="0.6"/>
<rect x="849" y="86.1" width="1" height="5.05" fill="#ff0000" fill-opacity="0.6"/>
<rect x="851" y="86.1" width="1" height="129.7" fill="#ff0000" fill-opacity="0.6"/>
<rect x="853" y="202.35" width="1" height="12.65" fill="#ff0000" fill-opacity="0.6"/>
<rect x="853" y="326.55" width="1" height="9.05" fill="#ff0000" fill-opacity="0.6"/>
<rect x="855" y="202.35" width="1" height="12.65" fill="#ff0000" fill-opacity="0.6"/>
<rect x="855" y="326.55" width="1" height="9.05" fill="#ff0000" fill-opacity="0.6"/>
<rect x="858" y="202.35" width="1" height="12.65" fill="#ff0000" fill-opacity="0.6"/>
<rect x="858" y="326.55" width="1" height="9.05" fill="#ff0000" fill-opacity="0.6"/>
<rect x="860" y="202.35" width="1" height="12.65" fill="#ff0000" fill-opacity="0.6"/>
<rect x="860" y="326.55" width="1" height="9.05" fill="#ff0000" fill-opacity="0.6"/>
<rect x="862" y="202.35" width="1" height="12.65" fill="#ff0000" fill-opacity="0.6"/>
<rect x="862" y="326.55" width="1" height="9.05" fill="#ff0000" fill-opacity="0.6"/>
<rect x="864" y="264.65" width="1" height="34.35" fill="#008000" fill-opacity="0.6"/>
<rect x="864" y="317.7" width="1" height="3.65" fill="#008000" fill-opacity="0.6"/>
<rect x="867" y="264.65" width="1" height="34.35" fill="#008000" fill-opacity="0.6"/>
<rect x="867" y="317.7" width="1" height="3.65" fill="#008000" fill-opacity="0.6"/>
<rect x="869" y="264.65" width="1" height="34.35" fill="#008000" fill-opacity="0.6"/>
<rect x="869" y="317.7" width="1" height="3.65" fill="#008000" fill-opacity="0.6"/>
<rect x="871" y="264.65" width="1" height="56.7" fill="#008000" fill-opacity="0.6"/>
<rect x="873" y="281.45" width="1" height="8.65" fill="#008000" fill-opacity="0.6"/>
<rect x="873" y="295.2" width="1" height="48.15" fill="#008000" fill-opacity="0.6"/>
<rect x="875" y="281.45" width="1" height="8.65" fill="#008000" fill-opacity="0.6"/>
<rect x="875" y="295.2" width="1" height="48.15" fill="#008000" fill-opacity="0.6"/>
<rect x="878" y="281.45" width="1" height="8.65" fill="#008000" fill-opacity="0.6"/>
<rect x="878" y="295.2" width="1" height="48.15" fill="#008000" fill-opacity="0.6"/>
<rect x="880" y="277.4" width="1" height="8.6" fill="#ff0000" fill-opacity="0.6"/>
<rect x="880" y="308.7" width="1" height="8.7" fill="#ff0000" fill-opacity="0.6"/>
<rect x="882" y="277.4" width="1" height="8.6" fill="#ff0000" fill-opacity="0.6"/>
<rect x="882" y="308.7" width="1" height="8.7" fill="#ff0000" fill-opacity="0.6"/>
<rect x="884" y="335.6" width="1" height="7.9" fill="#ff0000" fill-opacity="0.6"/>
</g>
<g clip-path="url(#cp)">
<polyline points="250.79,203.17 253.02,203.17 255.24,203.17 257.46,203.17 259.68,203.17 261.91,203.17 264.13,203.17 266.35,203.17 268.58,203.17 270.8,203.17 273.02,203.67 275.25,204.17 277.47,204.67 279.69,205.18 281.91,205.68 284.14,206.18 286.36,206.68 288.58,207.18 290.81,207.69 293.03,208.19 295.25,208.69 297.47,209.19 299.7,209.7 301.92,210.2 304.14,210.7 306.37,210.7 308.59,210.7 310.81,210.7 313.04,210.7 315.26,210.7 317.48,210.7 319.7,210.7 321.93,210.7 324.15,208.94 326.37,207.17 328.6,205.41 330.82,203.64 333.04,201.88 335.26,200.11 337.49,198.35 339.71,196.58 341.93,194.82 344.16,193.06 346.38,191.29 348.6,189.53 350.82,187.76 353.05,186 355.27,184.23 357.49,184.23 359.72,184.23 361.94,184.23 364.16,184.23 366.39,184.23 368.61,184.23 370.83,184.23 373.05,182.85 375.28,181.47 377.5,180.09 379.72,178.71 381.95,177.33 384.17,175.95 386.39,174.57 388.61,173.19 390.84,171.81 393.06,170.43 395.28,169.05 397.51,167.67 399.73,166.29 401.95,164.91 404.18,163.53 406.4,163.53 408.62,163.53 410.84,163.53 413.07,163.53 415.29,163.53 417.51,163.53 419.74,162.76 421.96,161.99 424.18,161.21 426.4,160.44 428.63,159.67 430.85,158.89 433.07,158.12 435.3,157.35 437.52,156.57 439.74,155.8 441.96,155.03 444.19,154.25 446.41,153.48 448.63,152.71 450.86,151.93 453.08,151.93 455.3,151.93 457.53,151.93 459.75,151.93 461.97,151.93 464.19,154.56 466.42,157.19 468.64,159.81 470.86,162.44 473.09,165.07 475.31,167.69 477.53,170.32 479.75,172.95 481.98,175.57 484.2,178.2 486.42,180.83 488.65,183.45 490.87,186.08 493.09,188.71 495.32,191.33 497.54,191.33 499.76,191.33 501.98,191.33 504.21,191.33 506.43,192.84 508.65,194.36 510.88,195.87 513.1,197.38 515.32,198.89 517.54,200.4 519.77,201.91 521.99,203.42 524.21,204.93 526.44,206.44 528.66,207.96 530.88,209.47 533.11,210.98 535.33,212.49 537.55,214 539.77,214 542,214 544.22,214 546.44,213.59 548.67,213.18 550.89,212.77 553.11,212.36 555.33,211.96 557.56,211.55 559.78,211.14 562,210.73 564.23,210.32 566.45,209.91 568.67,209.5 570.89,209.09 573.12,208.68 575.34,208.28 577.56,207.87 579.79,207.87 582.01,207.87 584.23,207.96 586.46,208.06 588.68,208.15 590.9,208.25 593.12,208.34 595.35,208.44 597.57,208.54 599.79,208.63 602.02,208.73 604.24,208.82 606.46,208.92 608.68,209.01 610.91,209.11 613.13,209.2 615.35,209.3 617.58,209.3 619.8,207.85 622.02,206.4 624.25,204.95 626.47,203.5 628.69,202.04 630.91,200.59 633.14,199.14 635.36,197.69 637.58,196.24 639.81,194.79 642.03,193.34 644.25,191.89 646.47,190.44 648.7,188.98 650.92,187.53 653.14,188.5 655.37,189.47 657.59,190.44 659.81,191.4 662.04,192.37 664.26,193.34 666.48,194.31 668.7,195.28 670.93,196.24 673.15,197.21 675.37,198.18 677.6,199.15 679.82,200.11 682.04,201.08 684.26,202.04 686.49,202.03 688.71,202.03 690.93,202.02 693.16,202.01 695.38,202 697.6,202 699.82,201.99 702.05,201.98 704.27,201.97 706.49,201.96 708.72,201.96 710.94,201.95 713.16,202.31 715.39,202.68 717.61,203.05 719.83,203.43 722.05,203.8 724.28,204.17 726.5,204.55 728.72,204.92 730.95,205.29 733.17,205.67 735.39,206.04 737.61,206.41 739.84,206.7 742.06,206.99 744.28,207.27 746.51,207.19 748.73,207.1 750.95,207.01 753.18,206.93 755.4,206.84 757.62,206.75 759.84,206.67 762.07,206.58 764.29,204.12 766.51,201.66 768.74,199.21 770.96,196.75 773.18,194.38 775.4,192.01 777.63,189.64 779.85,187.26 782.07,184.89 784.3,182.52 786.52,177.41 788.74,172.3 790.97,167.19 793.19,162.08 795.41,156.97 797.63,154.23 799.86,151.49 802.08,148.75 804.3,146.01 806.53,142.59 808.75,139.17 810.97,135.75 813.19,132.34 815.42,128.92 817.64,125.5 819.86,124.82 822.09,124.14 824.31,122.09 826.53,120.04 828.75,117.99 830.98,115.94 833.2,113.88 835.42,111.83 837.65,109.78 839.87,113.32 842.09,116.87 844.32,120.41 846.54,123.96 848.76,127.5 850.98,131.05 853.21,142.3 855.43,153.55 857.65,166.17 859.88,178.8 862.1,191.42 864.32,204.51 866.54,217.59 868.77,230.67 870.99,243.75 873.21,252.58 875.44,261.4 877.66,270.23 879.88,278.8 882.11,287.38 884.33,297.6" fill="none" stroke="#0000ff" stroke-width="1.15" stroke-opacity="0.8" stroke-linejoin="round" stroke-linecap="square"/>
<polyline points="284.14,204.67 286.36,204.92 288.58,205.18 290.81,205.43 293.03,205.68 295.25,205.93 297.47,206.18 299.7,206.43 301.92,206.68 304.14,206.93 306.37,207.18 308.59,207.44 310.81,207.69 313.04,207.94 315.26,208.19 317.48,208.44 319.7,208.69 321.93,208.94 324.15,208.31 326.37,207.68 328.6,207.05 330.82,206.42 333.04,205.79 335.26,205.16 337.49,204.52 339.71,203.64 341.93,202.76 344.16,201.88 346.38,201 348.6,200.11 350.82,199.23 353.05,198.35 355.27,197.47 357.49,196.58 359.72,195.7 361.94,194.82 364.16,193.94 366.39,193.06 368.61,192.17 370.83,191.29 373.05,189.72 375.28,188.15 377.5,186.57 379.72,185 381.95,183.43 384.17,181.86 386.39,180.29 388.61,178.71 390.84,178.02 393.06,177.33 395.28,176.64 397.51,175.95 399.73,175.26 401.95,174.57 404.18,173.88 406.4,173.19 408.62,172.5 410.84,171.81 413.07,171.12 415.29,170.43 417.51,169.74 419.74,168.67 421.96,167.59 424.18,166.51 426.4,165.44 428.63,164.36 430.85,163.28 433.07,162.21 435.3,161.13 437.52,160.05 439.74,159.67 441.96,159.28 444.19,158.89 446.41,158.51 448.63,158.12 450.86,157.73 453.08,157.35 455.3,156.96 457.53,156.57 459.75,156.19 461.97,155.8 464.19,156.73 466.42,157.65 468.64,158.58 470.86,159.51 473.09,160.43 475.31,161.36 477.53,162.29 479.75,163.21 481.98,164.14 484.2,165.07 486.42,166.38 488.65,167.69 490.87,169.01 493.09,170.32 495.32,171.63 497.54,172.95 499.76,174.26 501.98,175.57 504.21,176.89 506.43,178.96 508.65,181.02 510.88,183.09 513.1,185.16 515.32,187.23 517.54,189.3 519.77,191.37 521.99,193.44 524.21,195.51 526.44,197.58 528.66,199.64 530.88,200.4 533.11,201.16 535.33,201.91 537.55,202.67 539.77,203.42 542,204.18 544.22,204.93 546.44,205.48 548.67,206.04 550.89,206.59 553.11,207.14 555.33,207.69 557.56,208.24 559.78,208.79 562,209.34 564.23,209.89 566.45,210.44 568.67,211 570.89,211.55 573.12,211.34 575.34,211.14 577.56,210.93 579.79,210.73 582.01,210.52 584.23,210.37 586.46,210.21 588.68,210.05 590.9,209.9 593.12,209.74 595.35,209.58 597.57,209.43 599.79,209.27 602.02,209.11 604.24,208.96 606.46,208.8 608.68,208.64 610.91,208.49 613.13,208.54 615.35,208.58 617.58,208.63 619.8,207.95 622.02,207.28 624.25,206.6 626.47,205.92 628.69,205.24 630.91,204.56 633.14,203.89 635.36,203.21 637.58,202.53 639.81,201.85 642.03,201.18 644.25,200.5 646.47,199.82 648.7,199.14 650.92,198.42 653.14,198.18 655.37,197.93 657.59,197.69 659.81,197.45 662.04,197.21 664.26,196.97 666.48,196.72 668.7,196.48 670.93,196.24 673.15,196 675.37,195.76 677.6,195.52 679.82,195.28 682.04,195.03 684.26,194.79 686.49,195.27 688.71,195.75 690.93,196.23 693.16,196.71 695.38,197.19 697.6,197.67 699.82,198.15 702.05,198.63 704.27,199.11 706.49,199.59 708.72,200.07 710.94,200.55 713.16,201.21 715.39,201.88 717.61,202.55 719.83,202.73 722.05,202.91 724.28,203.1 726.5,203.28 728.72,203.46 730.95,203.64 733.17,203.83 735.39,204.01 737.61,204.19 739.84,204.33 742.06,204.47 744.28,204.61 746.51,204.75 748.73,204.89 750.95,205.03 753.18,205.18 755.4,205.32 757.62,205.46 759.84,205.61 762.07,205.75 764.29,204.71 766.51,203.67 768.74,202.62 770.96,201.58 773.18,200.54 775.4,199.5 777.63,198.45 779.85,197.23 782.07,196 784.3,194.77 786.52,192.17 788.74,189.57 790.97,186.97 793.19,184.37 795.41,181.77 797.63,179.17 799.86,176.58 802.08,173.98 804.3,171.38 806.53,168.48 808.75,165.59 810.97,162.69 813.19,159.8 815.42,156.91 817.64,154.01 819.86,151.12 822.09,148.22 824.31,144.64 826.53,141.06 828.75,137.48 830.98,135.08 833.2,132.69 835.42,130.29 837.65,127.89 839.87,127.96 842.09,128.02 844.32,128.08 846.54,128.15 848.76,128.21 850.98,128.27 853.21,133.56 855.43,138.85 857.65,144.13 859.88,149.42 862.1,154.71 864.32,160.22 866.54,165.74 868.77,171.25 870.99,176.76 873.21,182.95 875.44,189.14 877.66,195.32 879.88,201.38 882.11,207.44 884.33,214.32" fill="none" stroke="#ffa500" stroke-width="1.15" stroke-opacity="0.8" stroke-linejoin="round" stroke-linecap="square"/>
<polyline points="350.82,201.95 353.05,201.64 355.27,201.32 357.49,201.01 359.72,200.69 361.94,200.37 364.16,200.06 366.39,199.74 368.61,199.43 370.83,199.11 373.05,198.45 375.28,197.79 377.5,197.13 379.72,196.47 381.95,195.81 384.17,195.15 386.39,194.49 388.61,193.83 390.84,193.17 393.06,192.51 395.28,191.85 397.51,191.19 399.73,190.53 401.95,189.86 404.18,189.2 406.4,188.42 408.62,187.63 410.84,186.85 413.07,186.06 415.29,185.27 417.51,184.49 419.74,183.51 421.96,182.53 424.18,181.55 426.4,180.57 428.63,179.59 430.85,178.61 433.07,177.63 435.3,176.65 437.52,175.67 439.74,174.69 441.96,173.71 444.19,172.73 446.41,171.75 448.63,170.78 450.86,169.8 453.08,168.82 455.3,167.84 457.53,167.3 459.75,166.76 461.97,166.22 464.19,166.34 466.42,166.46 468.64,166.58 470.86,166.7 473.09,166.81 475.31,166.93 477.53,167.05 479.75,167.17 481.98,167.29 484.2,167.41 486.42,167.52 488.65,167.64 490.87,167.76 493.09,167.88 495.32,168 497.54,168.11 499.76,168.23 501.98,168.35 504.21,168.47 506.43,169.31 508.65,170.15 510.88,170.99 513.1,171.83 515.32,172.68 517.54,173.52 519.77,174.36 521.99,175.2 524.21,176.04 526.44,176.88 528.66,177.72 530.88,178.56 533.11,179.4 535.33,180.25 537.55,181.09 539.77,181.93 542,182.77 544.22,183.61 546.44,184.35 548.67,185.09 550.89,185.83 553.11,186.76 555.33,187.69 557.56,188.62 559.78,189.56 562,190.49 564.23,191.42 566.45,192.35 568.67,193.28 570.89,194.22 573.12,195.15 575.34,196.08 577.56,197.01 579.79,197.95 582.01,198.88 584.23,199.83 586.46,200.79 588.68,201.75 590.9,202.7 593.12,203.66 595.35,204.61 597.57,204.91 599.79,205.21 602.02,205.51 604.24,205.81 606.46,206.11 608.68,206.41 610.91,206.71 613.13,207.01 615.35,207.31 617.58,207.61 619.8,207.55 622.02,207.48 624.25,207.42 626.47,207.36 628.69,207.29 630.91,207.23 633.14,207.17 635.36,207.1 637.58,207.04 639.81,206.6 642.03,206.16 644.25,205.72 646.47,205.27 648.7,204.83 650.92,204.39 653.14,204.19 655.37,203.99 657.59,203.79 659.81,203.6 662.04,203.4 664.26,203.2 666.48,203 668.7,202.8 670.93,202.6 673.15,202.4 675.37,202.2 677.6,202 679.82,201.91 682.04,201.81 684.26,201.71 686.49,201.61 688.71,201.51 690.93,201.41 693.16,201.31 695.38,201.22 697.6,201.12 699.82,201.02 702.05,200.92 704.27,200.82 706.49,200.72 708.72,200.62 710.94,200.52 713.16,200.52 715.39,200.51 717.61,200.48 719.83,200.45 722.05,200.42 724.28,200.39 726.5,200.36 728.72,200.33 730.95,200.31 733.17,200.28 735.39,200.25 737.61,200.22 739.84,200.17 742.06,200.11 744.28,200.06 746.51,200.01 748.73,199.96 750.95,199.91 753.18,200.22 755.4,200.53 757.62,200.85 759.84,201.16 762.07,201.47 764.29,201.19 766.51,200.91 768.74,200.63 770.96,200.34 773.18,200.06 775.4,199.78 777.63,199.5 779.85,199.22 782.07,198.94 784.3,198.66 786.52,197.45 788.74,196.24 790.97,195.03 793.19,193.83 795.41,192.62 797.63,191.41 799.86,190.2 802.08,188.99 804.3,187.79 806.53,186.41 808.75,185.03 810.97,183.65 813.19,182.28 815.42,180.9 817.64,179.52 819.86,178.15 822.09,176.77 824.31,175.05 826.53,173.33 828.75,171.61 830.98,169.89 833.2,168.18 835.42,166.46 837.65,164.74 839.87,164.25 842.09,163.76 844.32,163.27 846.54,162.69 848.76,162.1 850.98,161.52 853.21,162.86 855.43,164.21 857.65,165.55 859.88,166.9 862.1,168.24 864.32,169.7 866.54,171.16 868.77,172.61 870.99,174.07 873.21,175.72 875.44,177.36 877.66,179.01 879.88,180.59 882.11,182.17 884.33,184.17" fill="none" stroke="#800080" stroke-width="1.15" stroke-opacity="0.8" stroke-linejoin="round" stroke-linecap="square"/>
</g>
<line x1="184.5" y1="370.5" x2="920" y2="370.5" stroke="#b0b0b0" stroke-width="1.1" stroke-dasharray="7.11 1.78 1.11 1.78"/>
<line x1="184.5" y1="423.5" x2="920" y2="423.5" stroke="#b0b0b0" stroke-width="1.1" stroke-dasharray="7.11 1.78 1.11 1.78"/>
<line x1="220.5" y1="472.5" x2="220.5" y2="357" stroke="#b0b0b0" stroke-width="1.1" stroke-dasharray="7.11 1.78 1.11 1.78"/>
<line x1="331.5" y1="472.5" x2="331.5" y2="357" stroke="#b0b0b0" stroke-width="1.1" stroke-dasharray="7.11 1.78 1.11 1.78"/>
<line x1="442.5" y1="472.5" x2="442.5" y2="357" stroke="#b0b0b0" stroke-width="1.1" stroke-dasharray="7.11 1.78 1.11 1.78"/>
<line x1="553.5" y1="472.5" x2="553.5" y2="357" stroke="#b0b0b0" stroke-width="1.1" stroke-dasharray="7.11 1.78 1.11 1.78"/>
<line x1="664.5" y1="472.5" x2="664.5" y2="357" stroke="#b0b0b0" stroke-width="1.1" stroke-dasharray="7.11 1.78 1.11 1.78"/>
<line x1="775.5" y1="472.5" x2="775.5" y2="357" stroke="#b0b0b0" stroke-width="1.1" stroke-dasharray="7.11 1.78 1.11 1.78"/>
<line x1="887.5" y1="472.5" x2="887.5" y2="357" stroke="#b0b0b0" stroke-width="1.1" stroke-dasharray="7.11 1.78 1.11 1.78"/>
<g clip-path="url(#cv)">
<rect x="219" y="443" width="54" height="29" fill="#2c7bb6"/>
<rect x="272" y="460" width="52" height="12" fill="#2c7bb6"/>
<rect x="323" y="456" width="50" height="16" fill="#2c7bb6"/>
<rect x="372" y="450" width="47" height="22" fill="#2c7bb6"/>
<rect x="419" y="421" width="45" height="51" fill="#2c7bb6"/>
<rect x="463" y="448" width="43" height="24" fill="#2c7bb6"/>
<rect x="506" y="434" width="40" height="38" fill="#2c7bb6"/>
<rect x="546" y="447" width="38" height="25" fill="#2c7bb6"/>
<rect x="583" y="450" width="37" height="22" fill="#2c7bb6"/>
<rect x="619" y="445" width="34" height="27" fill="#2c7bb6"/>
<rect x="652" y="456" width="32" height="16" fill="#2c7bb6"/>
<rect x="683" y="457" width="30" height="15" fill="#2c7bb6"/>
<rect x="712" y="453" width="28" height="19" fill="#2c7bb6"/>
<rect x="739" y="458" width="25" height="14" fill="#2c7bb6"/>
<rect x="763" y="444" width="23" height="28" fill="#2c7bb6"/>
<rect x="786" y="437" width="20" height="35" fill="#2c7bb6"/>
<rect x="806" y="437" width="18" height="35" fill="#2c7bb6"/>
<rect x="823" y="450" width="17" height="22" fill="#2c7bb6"/>
<rect x="839" y="376" width="14" height="96" fill="#2c7bb6"/>
<rect x="852" y="367" width="12" height="105" fill="#2c7bb6"/>
<rect x="863" y="407" width="10" height="65" fill="#2c7bb6"/>
<rect x="872" y="401" width="8" height="71" fill="#2c7bb6"/>
<rect x="879" y="438" width="5" height="34" fill="#2c7bb6"/>
<rect x="883" y="432" width="3" height="40" fill="#2c7bb6"/>
<rect x="220" y="444" width="1" height="28" fill="#008000"/>
<rect x="222" y="444" width="1" height="28" fill="#008000"/>
<rect x="224" y="444" width="1" height="28" fill="#008000"/>
<rect x="226" y="444" width="1" height="28" fill="#008000"/>
<rect x="231" y="444" width="1" height="28" fill="#008000"/>
<rect x="233" y="444" width="1" height="28" fill="#008000"/>
<rect x="235" y="444" width="1" height="28" fill="#008000"/>
<rect x="240" y="444" width="1" height="28" fill="#008000"/>
<rect x="242" y="444" width="1" height="28" fill="#008000"/>
<rect x="244" y="444" width="1" height="28" fill="#008000"/>
<rect x="246" y="444" width="1" height="28" fill="#008000"/>
<rect x="251" y="444" width="1" height="28" fill="#008000"/>
<rect x="253" y="444" width="1" height="28" fill="#008000"/>
<rect x="255" y="444" width="1" height="28" fill="#008000"/>
<rect x="260" y="444" width="1" height="28" fill="#008000"/>
<rect x="262" y="444" width="1" height="28" fill="#008000"/>
<rect x="264" y="444" width="1" height="28" fill="#008000"/>
<rect x="266" y="444" width="1" height="28" fill="#008000"/>
<rect x="271" y="444" width="1" height="28" fill="#008000"/>
<rect x="273" y="461" width="1" height="11" fill="#ff0000"/>
<rect x="275" y="461" width="1" height="11" fill="#ff0000"/>
<rect x="280" y="461" width="1" height="11" fill="#ff0000"/>
<rect x="282" y="461" width="1" height="11" fill="#ff0000"/>
<rect x="284" y="461" width="1" height="11" fill="#ff0000"/>
<rect x="286" y="461" width="1" height="11" fill="#ff0000"/>
<rect x="291" y="461" width="1" height="11" fill="#ff0000"/>
<rect x="293" y="461" width="1" height="11" fill="#ff0000"/>
<rect x="295" y="461" width="1" height="11" fill="#ff0000"/>
<rect x="300" y="461" width="1" height="11" fill="#ff0000"/>
<rect x="302" y="461" width="1" height="11" fill="#ff0000"/>
<rect x="304" y="461" width="1" height="11" fill="#ff0000"/>
<rect x="306" y="461" width="1" height="11" fill="#ff0000"/>
<rect x="309" y="461" width="1" height="11" fill="#ff0000"/>
<rect x="311" y="461" width="1" height="11" fill="#ff0000"/>
<rect x="313" y="461" width="1" height="11" fill="#ff0000"/>
<rect x="315" y="461" width="1" height="11" fill="#ff0000"/>
<rect x="320" y="461" width="1" height="11" fill="#ff0000"/>
<rect x="322" y="461" width="1" height="11" fill="#ff0000"/>
<rect x="324" y="457" width="1" height="15" fill="#008000"/>
<rect x="326" y="457" width="1" height="15" fill="#008000"/>
<rect x="329" y="457" width="1" height="15" fill="#008000"/>
<rect x="331" y="457" width="1" height="15" fill="#008000"/>
<rect x="333" y="457" width="1" height="15" fill="#008000"/>
<rect x="335" y="457" width="1" height="15" fill="#008000"/>
<rect x="340" y="457" width="1" height="15" fill="#008000"/>
<rect x="342" y="457" width="1" height="15" fill="#008000"/>
<rect x="344" y="457" width="1" height="15" fill="#008000"/>
<rect x="346" y="457" width="1" height="15" fill="#008000"/>
<rect x="349" y="457" width="1" height="15" fill="#008000"/>
<rect x="351" y="457" width="1" height="15" fill="#008000"/>
<rect x="353" y="457" width="1" height="15" fill="#008000"/>
<rect x="355" y="457" width="1" height="15" fill="#008000"/>
<rect x="360" y="457" width="1" height="15" fill="#008000"/>
<rect x="362" y="457" width="1" height="15" fill="#008000"/>
<rect x="364" y="457" width="1" height="15" fill="#008000"/>
<rect x="366" y="457" width="1" height="15" fill="#008000"/>
<rect x="369" y="457" width="1" height="15" fill="#008000"/>
<rect x="371" y="457" width="1" height="15" fill="#008000"/>
<rect x="373" y="451" width="1" height="21" fill="#008000"/>
<rect x="375" y="451" width="1" height="21" fill="#008000"/>
<rect x="380" y="451" width="1" height="21" fill="#008000"/>
<rect x="382" y="451" width="1" height="21" fill="#008000"/>
<rect x="384" y="451" width="1" height="21" fill="#008000"/>
<rect x="386" y="451" width="1" height="21" fill="#008000"/>
<rect x="389" y="451" width="1" height="21" fill="#008000"/>
<rect x="391" y="451" width="1" height="21" fill="#008000"/>
<rect x="393" y="451" width="1" height="21" fill="#008000"/>
<rect x="395" y="451" width="1" height="21" fill="#008000"/>
<rect x="400" y="451" width="1" height="21" fill="#008000"/>
<rect x="402" y="451" width="1" height="21" fill="#008000"/>
<rect x="404" y="451" width="1" height="21" fill="#008000"/>
<rect x="406" y="451" width="1" height="21" fill="#008000"/>
<rect x="409" y="451" width="1" height="21" fill="#008000"/>
<rect x="411" y="451" width="1" height="21" fill="#008000"/>
<rect x="413" y="451" width="1" height="21" fill="#008000"/>
<rect x="415" y="451" width="1" height="21" fill="#008000"/>
<rect x="420" y="422" width="1" height="50" fill="#ff0000"/>
<rect x="422" y="422" width="1" height="50" fill="#ff0000"/>
<rect x="424" y="422" width="1" height="50" fill="#ff0000"/>
<rect x="426" y="422" width="1" height="50" fill="#ff0000"/>
<rect x="429" y="422" width="1" height="50" fill="#ff0000"/>
<rect x="431" y="422" width="1" height="50" fill="#ff0000"/>
<rect x="433" y="422" width="1" height="50" fill="#ff0000"/>
<rect x="435" y="422" width="1" height="50" fill="#ff0000"/>
<rect x="440" y="422" width="1" height="50" fill="#ff0000"/>
<rect x="442" y="422" width="1" height="50" fill="#ff0000"/>
<rect x="444" y="422" width="1" height="50" fill="#ff0000"/>
<rect x="446" y="422" width="1" height="50" fill="#ff0000"/>
<rect x="449" y="422" width="1" height="50" fill="#ff0000"/>
<rect x="451" y="422" width="1" height="50" fill="#ff0000"/>
<rect x="453" y="422" width="1" height="50" fill="#ff0000"/>
<rect x="455" y="422" width="1" height="50" fill="#ff0000"/>
<rect x="460" y="422" width="1" height="50" fill="#ff0000"/>
<rect x="462" y="422" width="1" height="50" fill="#ff0000"/>
<rect x="464" y="449" width="1" height="23" fill="#ff0000"/>
<rect x="466" y="449" width="1" height="23" fill="#ff0000"/>
<rect x="469" y="449" width="1" height="23" fill="#ff0000"/>
<rect x="471" y="449" width="1" height="23" fill="#ff0000"/>
<rect x="473" y="449" width="1" height="23" fill="#ff0000"/>
<rect x="475" y="449" width="1" height="23" fill="#ff0000"/>
<rect x="480" y="449" width="1" height="23" fill="#ff0000"/>
<rect x="482" y="449" width="1" height="23" fill="#ff0000"/>
<rect x="484" y="449" width="1" height="23" fill="#ff0000"/>
<rect x="489" y="449" width="1" height="23" fill="#ff0000"/>
<rect x="491" y="449" width="1" height="23" fill="#ff0000"/>
<rect x="493" y="449" width="1" height="23" fill="#ff0000"/>
<rect x="495" y="449" width="1" height="23" fill="#ff0000"/>
<rect x="500" y="449" width="1" height="23" fill="#ff0000"/>
<rect x="502" y="449" width="1" height="23" fill="#ff0000"/>
<rect x="504" y="449" width="1" height="23" fill="#ff0000"/>
<rect x="509" y="435" width="1" height="37" fill="#ff0000"/>
<rect x="511" y="435" width="1" height="37" fill="#ff0000"/>
<rect x="513" y="435" width="1" height="37" fill="#ff0000"/>
<rect x="515" y="435" width="1" height="37" fill="#ff0000"/>
<rect x="520" y="435" width="1" height="37" fill="#ff0000"/>
<rect x="522" y="435" width="1" height="37" fill="#ff0000"/>
<rect x="524" y="435" width="1" height="37" fill="#ff0000"/>
<rect x="529" y="435" width="1" height="37" fill="#ff0000"/>
<rect x="531" y="435" width="1" height="37" fill="#ff0000"/>
<rect x="533" y="435" width="1" height="37" fill="#ff0000"/>
<rect x="535" y="435" width="1" height="37" fill="#ff0000"/>
<rect x="540" y="435" width="1" height="37" fill="#ff0000"/>
<rect x="542" y="435" width="1" height="37" fill="#ff0000"/>
<rect x="544" y="435" width="1" height="37" fill="#ff0000"/>
<rect x="549" y="448" width="1" height="24" fill="#008000"/>
<rect x="551" y="448" width="1" height="24" fill="#008000"/>
<rect x="553" y="448" width="1" height="24" fill="#008000"/>
<rect x="555" y="448" width="1" height="24" fill="#008000"/>
<rect x="560" y="448" width="1" height="24" fill="#008000"/>
<rect x="562" y="448" width="1" height="24" fill="#008000"/>
<rect x="564" y="448" width="1" height="24" fill="#008000"/>
<rect x="569" y="448" width="1" height="24" fill="#008000"/>
<rect x="571" y="448" width="1" height="24" fill="#008000"/>
<rect x="573" y="448" width="1" height="24" fill="#008000"/>
<rect x="575" y="448" width="1" height="24" fill="#008000"/>
<rect x="580" y="448" width="1" height="24" fill="#008000"/>
<rect x="582" y="448" width="1" height="24" fill="#008000"/>
<rect x="584" y="451" width="1" height="21" fill="#ff0000"/>
<rect x="589" y="451" width="1" height="21" fill="#ff0000"/>
<rect x="591" y="451" width="1" height="21" fill="#ff0000"/>
<rect x="593" y="451" width="1" height="21" fill="#ff0000"/>
<rect x="595" y="451" width="1" height="21" fill="#ff0000"/>
<rect x="600" y="451" width="1" height="21" fill="#ff0000"/>
<rect x="602" y="451" width="1" height="21" fill="#ff0000"/>
<rect x="604" y="451" width="1" height="21" fill="#ff0000"/>
<rect x="609" y="451" width="1" height="21" fill="#ff0000"/>
<rect x="611" y="451" width="1" height="21" fill="#ff0000"/>
<rect x="613" y="451" width="1" height="21" fill="#ff0000"/>
<rect x="615" y="451" width="1" height="21" fill="#ff0000"/>
<rect x="620" y="446" width="1" height="26" fill="#008000"/>
<rect x="622" y="446" width="1" height="26" fill="#008000"/>
<rect x="624" y="446" width="1" height="26" fill="#008000"/>
<rect x="629" y="446" width="1" height="26" fill="#008000"/>
<rect x="631" y="446" width="1" height="26" fill="#008000"/>
<rect x="633" y="446" width="1" height="26" fill="#008000"/>
<rect x="635" y="446" width="1" height="26" fill="#008000"/>
<rect x="640" y="446" width="1" height="26" fill="#008000"/>
<rect x="642" y="446" width="1" height="26" fill="#008000"/>
<rect x="644" y="446" width="1" height="26" fill="#008000"/>
<rect x="649" y="446" width="1" height="26" fill="#008000"/>
<rect x="651" y="446" width="1" height="26" fill="#008000"/>
<rect x="653" y="457" width="1" height="15" fill="#ff0000"/>
<rect x="655" y="457" width="1" height="15" fill="#ff0000"/>
<rect x="658" y="457" width="1" height="15" fill="#ff0000"/>
<rect x="660" y="457" width="1" height="15" fill="#ff0000"/>
<rect x="662" y="457" width="1" height="15" fill="#ff0000"/>
<rect x="664" y="457" width="1" height="15" fill="#ff0000"/>
<rect x="669" y="457" width="1" height="15" fill="#ff0000"/>
<rect x="671" y="457" width="1" height="15" fill="#ff0000"/>
<rect x="673" y="457" width="1" height="15" fill="#ff0000"/>
<rect x="675" y="457" width="1" height="15" fill="#ff0000"/>
<rect x="678" y="457" width="1" height="15" fill="#ff0000"/>
<rect x="680" y="457" width="1" height="15" fill="#ff0000"/>
<rect x="682" y="457" width="1" height="15" fill="#ff0000"/>
<rect x="684" y="458" width="1" height="14" fill="#008000"/>
<rect x="689" y="458" width="1" height="14" fill="#008000"/>
<rect x="691" y="458" width="1" height="14" fill="#008000"/>
<rect x="693" y="458" width="1" height="14" fill="#008000"/>
<rect x="695" y="458" width="1" height="14" fill="#008000"/>
<rect x="698" y="458" width="1" height="14" fill="#008000"/>
<rect x="700" y="458" width="1" height="14" fill="#008000"/>
<rect x="702" y="458" width="1" height="14" fill="#008000"/>
<rect x="704" y="458" width="1" height="14" fill="#008000"/>
<rect x="709" y="458" width="1" height="14" fill="#008000"/>
<rect x="711" y="458" width="1" height="14" fill="#008000"/>
<rect x="713" y="454" width="1" height="18" fill="#008000"/>
<rect x="715" y="454" width="1" height="18" fill="#008000"/>
<rect x="718" y="454" width="1" height="18" fill="#008000"/>
<rect x="720" y="454" width="1" height="18" fill="#008000"/>
<rect x="722" y="454" width="1" height="18" fill="#008000"/>
<rect x="724" y="454" width="1" height="18" fill="#008000"/>
<rect x="729" y="454" width="1" height="18" fill="#008000"/>
<rect x="731" y="454" width="1" height="18" fill="#008000"/>
<rect x="733" y="454" width="1" height="18" fill="#008000"/>
<rect x="735" y="454" width="1" height="18" fill="#008000"/>
<rect x="738" y="454" width="1" height="18" fill="#008000"/>
<rect x="740" y="459" width="1" height="13" fill="#008000"/>
<rect x="742" y="459" width="1" height="13" fill="#008000"/>
<rect x="744" y="459" width="1" height="13" fill="#008000"/>
<rect x="749" y="459" width="1" height="13" fill="#008000"/>
<rect x="751" y="459" width="1" height="13" fill="#008000"/>
<rect x="753" y="459" width="1" height="13" fill="#008000"/>
<rect x="755" y="459" width="1" height="13" fill="#008000"/>
<rect x="758" y="459" width="1" height="13" fill="#008000"/>
<rect x="760" y="459" width="1" height="13" fill="#008000"/>
<rect x="762" y="459" width="1" height="13" fill="#008000"/>
<rect x="764" y="445" width="1" height="27" fill="#008000"/>
<rect x="769" y="445" width="1" height="27" fill="#008000"/>
<rect x="771" y="445" width="1" height="27" fill="#008000"/>
<rect x="773" y="445" width="1" height="27" fill="#008000"/>
<rect x="775" y="445" width="1" height="27" fill="#008000"/>
<rect x="778" y="445" width="1" height="27" fill="#008000"/>
<rect x="780" y="445" width="1" height="27" fill="#008000"/>
<rect x="782" y="445" width="1" height="27" fill="#008000"/>
<rect x="784" y="445" width="1" height="27" fill="#008000"/>
<rect x="789" y="438" width="1" height="34" fill="#008000"/>
<rect x="791" y="438" width="1" height="34" fill="#008000"/>
<rect x="793" y="438" width="1" height="34" fill="#008000"/>
<rect x="795" y="438" width="1" height="34" fill="#008000"/>
<rect x="798" y="438" width="1" height="34" fill="#008000"/>
<rect x="800" y="438" width="1" height="34" fill="#008000"/>
<rect x="802" y="438" width="1" height="34" fill="#008000"/>
<rect x="804" y="438" width="1" height="34" fill="#008000"/>
<rect x="809" y="438" width="1" height="34" fill="#ff0000"/>
<rect x="811" y="438" width="1" height="34" fill="#ff0000"/>
<rect x="813" y="438" width="1" height="34" fill="#ff0000"/>
<rect x="815" y="438" width="1" height="34" fill="#ff0000"/>
<rect x="818" y="438" width="1" height="34" fill="#ff0000"/>
<rect x="820" y="438" width="1" height="34" fill="#ff0000"/>
<rect x="822" y="438" width="1" height="34" fill="#ff0000"/>
<rect x="824" y="451" width="1" height="21" fill="#008000"/>
<rect x="829" y="451" width="1" height="21" fill="#008000"/>
<rect x="831" y="451" width="1" height="21" fill="#008000"/>
<rect x="833" y="451" width="1" height="21" fill="#008000"/>
<rect x="838" y="451" width="1" height="21" fill="#008000"/>
<rect x="840" y="377" width="1" height="95" fill="#ff0000"/>
<rect x="842" y="377" width="1" height="95" fill="#ff0000"/>
<rect x="844" y="377" width="1" height="95" fill="#ff0000"/>
<rect x="849" y="377" width="1" height="95" fill="#ff0000"/>
<rect x="851" y="377" width="1" height="95" fill="#ff0000"/>
<rect x="853" y="368" width="1" height="104" fill="#ff0000"/>
<rect x="858" y="368" width="1" height="104" fill="#ff0000"/>
<rect x="860" y="368" width="1" height="104" fill="#ff0000"/>
<rect x="862" y="368" width="1" height="104" fill="#ff0000"/>
<rect x="864" y="408" width="1" height="64" fill="#008000"/>
<rect x="869" y="408" width="1" height="64" fill="#008000"/>
<rect x="871" y="408" width="1" height="64" fill="#008000"/>
<rect x="873" y="402" width="1" height="70" fill="#008000"/>
<rect x="878" y="402" width="1" height="70" fill="#008000"/>
<rect x="880" y="439" width="1" height="33" fill="#ff0000"/>
<rect x="882" y="439" width="1" height="33" fill="#ff0000"/>
<rect x="884" y="433" width="1" height="39" fill="#ff0000"/>
</g>
<rect x="184.5" y="69.5" width="736" height="288" fill="none" stroke="#000" stroke-width="1.1"/>
<rect x="184.5" y="357.5" width="736" height="115" fill="none" stroke="#000" stroke-width="1.1"/>
<line x1="179.2" y1="100.5" x2="184.5" y2="100.5" stroke="#000" stroke-width="1.1"/>
<line x1="179.2" y1="135.5" x2="184.5" y2="135.5" stroke="#000" stroke-width="1.1"/>
<line x1="179.2" y1="171.5" x2="184.5" y2="171.5" stroke="#000" stroke-width="1.1"/>
<line x1="179.2" y1="206.5" x2="184.5" y2="206.5" stroke="#000" stroke-width="1.1"/>
<line x1="179.2" y1="242.5" x2="184.5" y2="242.5" stroke="#000" stroke-width="1.1"/>
<line x1="179.2" y1="277.5" x2="184.5" y2="277.5" stroke="#000" stroke-width="1.1"/>
<line x1="179.2" y1="313.5" x2="184.5" y2="313.5" stroke="#000" stroke-width="1.1"/>
<line x1="179.2" y1="348.5" x2="184.5" y2="348.5" stroke="#000" stroke-width="1.1"/>
<line x1="179.2" y1="370.5" x2="184.5" y2="370.5" stroke="#000" stroke-width="1.1"/>
<line x1="179.2" y1="423.5" x2="184.5" y2="423.5" stroke="#000" stroke-width="1.1"/>
<line x1="220.5" y1="472.5" x2="220.5" y2="477.4" stroke="#000" stroke-width="1.1"/>
<line x1="331.5" y1="472.5" x2="331.5" y2="477.4" stroke="#000" stroke-width="1.1"/>
<line x1="442.5" y1="472.5" x2="442.5" y2="477.4" stroke="#000" stroke-width="1.1"/>
<line x1="553.5" y1="472.5" x2="553.5" y2="477.4" stroke="#000" stroke-width="1.1"/>
<line x1="664.5" y1="472.5" x2="664.5" y2="477.4" stroke="#000" stroke-width="1.1"/>
<line x1="775.5" y1="472.5" x2="775.5" y2="477.4" stroke="#000" stroke-width="1.1"/>
<line x1="887.5" y1="472.5" x2="887.5" y2="477.4" stroke="#000" stroke-width="1.1"/>
<g>
<text transform="translate(0.00,15.65)" x="246.61 260.39 271.03 282.25 287.61 298.02 308.46 314.21 329.03 333.68 344.10 355.04 361.01 371.15 375.58 388.17 397.86 409.24 416.02 421.95 426.88 433.65 444.41 454.73 465.42 475.71 481.91 492.54 502.77 508.84 519.60 529.95 535.32 545.95 556.46 562.07 572.61 584.58 596.94 607.52 618.08 623.69 634.23 645.14 651.05 656.19 662.29 667.20 681.47 693.18 698.45 708.80 719.09 724.04 736.69 745.19 757.76 763.40" y="0" font-family="&quot;Liberation Sans&quot;, sans-serif" font-size="17.66" fill="#000" stroke="#000" stroke-width="0.2">MES 12-Minute Chart (2025-10-20 18:00~19:00) - MA on HLC/3</text>
<text transform="translate(138.93,104.70)" x="0.32 9.13 17.81 26.83" y="0" font-family="&quot;Liberation Sans&quot;, sans-serif" font-size="14.72" fill="#000" stroke="#000" stroke-width="0.2">6726</text>
<text transform="translate(138.93,139.70)" x="0.32 9.13 17.81 26.83" y="0" font-family="&quot;Liberation Sans&quot;, sans-serif" font-size="14.72" fill="#000" stroke="#000" stroke-width="0.2">6724</text>
<text transform="translate(138.93,175.70)" x="0.32 9.13 17.81 26.65" y="0" font-family="&quot;Liberation Sans&quot;, sans-serif" font-size="14.72" fill="#000" stroke="#000" stroke-width="0.2">6722</text>
<text transform="translate(138.93,210.70)" x="0.32 9.13 17.81 26.83" y="0" font-family="&quot;Liberation Sans&quot;, sans-serif" font-size="14.72" fill="#000" stroke="#000" stroke-width="0.2">6720</text>
<text transform="translate(138.93,246.70)" x="0.32 9.13 17.92 26.83" y="0" font-family="&quot;Liberation Sans&quot;, sans-serif" font-size="14.72" fill="#000" stroke="#000" stroke-width="0.2">6718</text>
<text transform="translate(138.93,281.70)" x="0.32 9.13 17.92 26.83" y="0" font-family="&quot;Liberation Sans&quot;, sans-serif" font-size="14.72" fill="#000" stroke="#000" stroke-width="0.2">6716</text>
<text transform="translate(138.93,317.70)" x="0.32 9.13 17.92 26.83" y="0" font-family="&quot;Liberation Sans&quot;, sans-serif" font-size="14.72" fill="#000" stroke="#000" stroke-width="0.2">6714</text>
<text transform="translate(138.93,352.70)" x="0.32 9.13 17.92 26.65" y="0" font-family="&quot;Liberation Sans&quot;, sans-serif" font-size="14.72" fill="#000" stroke="#000" stroke-width="0.2">6712</text>
<text transform="translate(138.93,374.70)" x="0.14 9.16 18.00 26.83" y="0" font-family="&quot;Liberation Sans&quot;, sans-serif" font-size="14.72" fill="#000" stroke="#000" stroke-width="0.2">2000</text>
<text transform="translate(138.93,427.70)" x="0.25 9.16 18.00 26.83" y="0" font-family="&quot;Liberation Sans&quot;, sans-serif" font-size="14.72" fill="#000" stroke="#000" stroke-width="0.2">1000</text>
<text transform="translate(130.70,232.50) rotate(-90)" x="-0.49 8.80 14.14 17.67 25.54" y="0" font-family="&quot;Liberation Sans&quot;, sans-serif" font-size="14.72" fill="#000" stroke="#000" stroke-width="0.2">Price</text>
<text transform="translate(130.70,441.20) rotate(-90)" x="-0.16 8.58 17.21 21.06 30.25 43.32" y="0" font-family="&quot;Liberation Sans&quot;, sans-serif" font-size="14.72" fill="#000" stroke="#000" stroke-width="0.2">Volume</text>
<text transform="translate(208.22,517.40) rotate(-45)" x="0.32 9.16 17.97 22.67 31.51" y="0" font-family="&quot;Liberation Sans&quot;, sans-serif" font-size="14.72" fill="#000" stroke="#000" stroke-width="0.2">04:48</text>
<text transform="translate(319.37,517.40) rotate(-45)" x="0.32 9.16 17.97 22.62 31.51" y="0" font-family="&quot;Liberation Sans&quot;, sans-serif" font-size="14.72" fill="#000" stroke="#000" stroke-width="0.2">04:54</text>
<text transform="translate(430.51,517.40) rotate(-45)" x="0.32 9.11 17.97 22.67 31.51" y="0" font-family="&quot;Liberation Sans&quot;, sans-serif" font-size="14.72" fill="#000" stroke="#000" stroke-width="0.2">05:00</text>
<text transform="translate(541.66,517.40) rotate(-45)" x="0.32 9.11 17.97 22.67 31.47" y="0" font-family="&quot;Liberation Sans&quot;, sans-serif" font-size="14.72" fill="#000" stroke="#000" stroke-width="0.2">05:09</text>
<text transform="translate(652.81,517.40) rotate(-45)" x="0.32 9.11 17.97 22.60 31.51" y="0" font-family="&quot;Liberation Sans&quot;, sans-serif" font-size="14.72" fill="#000" stroke="#000" stroke-width="0.2">05:18</text>
<text transform="translate(763.95,517.40) rotate(-45)" x="0.32 9.11 17.97 22.69 31.51" y="0" font-family="&quot;Liberation Sans&quot;, sans-serif" font-size="14.72" fill="#000" stroke="#000" stroke-width="0.2">05:30</text>
</g>
</svg></body></html>
